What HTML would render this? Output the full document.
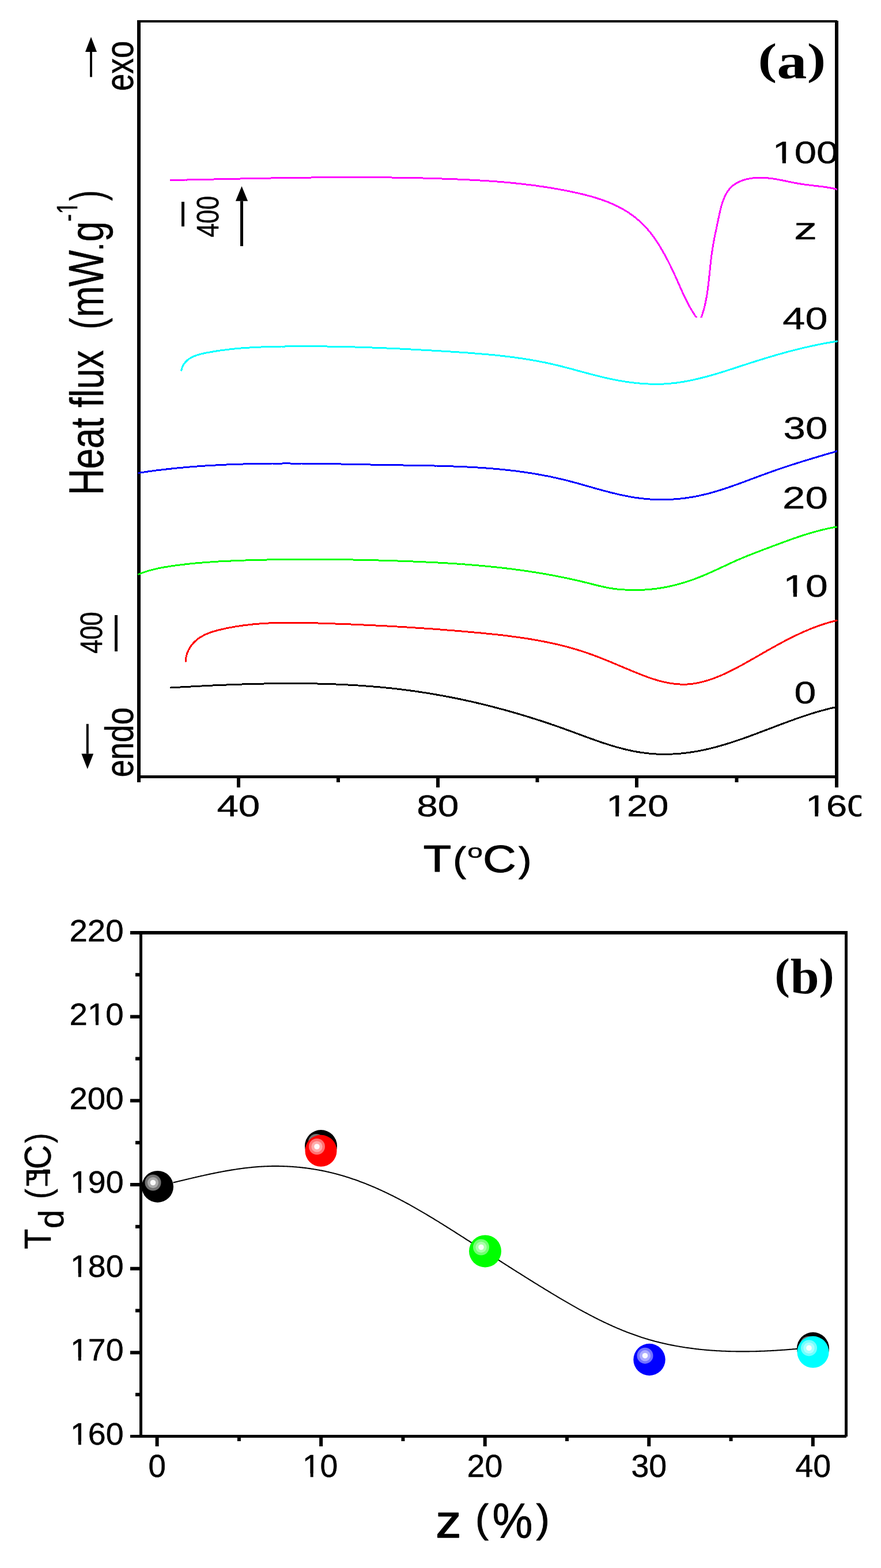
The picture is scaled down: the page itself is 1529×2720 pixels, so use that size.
<!DOCTYPE html><html><head><meta charset="utf-8"><title>DSC thermograms and Td</title>
<style>html,body{margin:0;padding:0;background:#fff;}svg{display:block;}text{font-kerning:none;}</style></head><body>
<svg width="1529" height="2720" viewBox="0 0 1529 2720">
<rect x="0" y="0" width="1529" height="2720" fill="#fff"/>
<defs><clipPath id="clip160"><rect x="0" y="0" width="1495" height="2720"/></clipPath><clipPath id="clipmag"><rect x="0" y="0" width="1529" height="551"/></clipPath></defs>
<text transform="matrix(0.00000,-0.13470,0.17306,0.00000,231.05776,157.83985)" font-family="'Liberation Sans', Arial, sans-serif" font-weight="normal" font-size="400" fill="#000" stroke="#000" stroke-width="3.275" stroke-linejoin="round" >exo</text>
<text transform="matrix(0.00000,-0.13657,0.17177,0.00000,230.86293,1348.37161)" font-family="'Liberation Sans', Arial, sans-serif" font-weight="normal" font-size="400" fill="#000" stroke="#000" stroke-width="3.265" stroke-linejoin="round" >endo</text>
<text transform="matrix(0.00000,-0.10778,0.13569,0.00000,379.20724,411.61998)" font-family="'Liberation Sans', Arial, sans-serif" font-weight="normal" font-size="400" fill="#000" stroke="#000" stroke-width="4.135" stroke-linejoin="round" >400</text>
<text transform="matrix(0.00000,-0.10855,0.13569,0.00000,177.10724,1133.72698)" font-family="'Liberation Sans', Arial, sans-serif" font-weight="normal" font-size="400" fill="#000" stroke="#000" stroke-width="4.120" stroke-linejoin="round" >400</text>
<text transform="matrix(0.00000,-0.15874,0.21273,0.00000,178.75000,858.88857)" font-family="'Liberation Sans', Arial, sans-serif" font-weight="normal" font-size="400" fill="#000" stroke="#000" stroke-width="2.721" stroke-linejoin="round" >H</text>
<text transform="matrix(0.00000,-0.15970,0.20521,0.00000,178.75000,813.46491)" font-family="'Liberation Sans', Arial, sans-serif" font-weight="normal" font-size="400" fill="#000" stroke="#000" stroke-width="2.762" stroke-linejoin="round" >eat flux</text>
<text transform="matrix(0.00000,-0.15048,0.20000,0.00000,178.15000,571.41190)" font-family="'Liberation Sans', Arial, sans-serif" font-weight="normal" font-size="400" fill="#000" stroke="#000" stroke-width="2.882" stroke-linejoin="round" >(</text>
<text transform="matrix(0.00000,-0.16286,0.20186,0.00000,178.65000,550.24714)" font-family="'Liberation Sans', Arial, sans-serif" font-weight="normal" font-size="400" fill="#000" stroke="#000" stroke-width="2.758" stroke-linejoin="round" >m</text>
<text transform="matrix(0.00000,-0.16658,0.21273,0.00000,178.65000,496.88316)" font-family="'Liberation Sans', Arial, sans-serif" font-weight="normal" font-size="400" fill="#000" stroke="#000" stroke-width="2.656" stroke-linejoin="round" >W</text>
<text transform="matrix(0.00000,-0.14211,0.14884,0.00000,178.65000,435.90789)" font-family="'Liberation Sans', Arial, sans-serif" font-weight="normal" font-size="400" fill="#000" stroke="#000" stroke-width="3.438" stroke-linejoin="round" >.</text>
<text transform="matrix(0.00000,-0.15889,0.20302,0.00000,178.89933,419.35111)" font-family="'Liberation Sans', Arial, sans-serif" font-weight="normal" font-size="400" fill="#000" stroke="#000" stroke-width="2.784" stroke-linejoin="round" >g</text>
<text transform="matrix(0.00000,-0.09681,0.12545,0.00000,133.75000,384.29263)" font-family="'Liberation Sans', Arial, sans-serif" font-weight="normal" font-size="400" fill="#000" stroke="#000" stroke-width="4.537" stroke-linejoin="round" clip-path="url(#nf0)" >-1</text>
<text transform="matrix(0.00000,-0.13619,0.20000,0.00000,178.15000,348.15857)" font-family="'Liberation Sans', Arial, sans-serif" font-weight="normal" font-size="400" fill="#000" stroke="#000" stroke-width="3.030" stroke-linejoin="round" >)</text>
<text transform="matrix(0.24608,0.00000,0.00000,0.19091,1315.47059,127.77273)" font-family="'Liberation Serif', 'Times New Roman', serif" font-weight="bold" font-size="400" fill="#000" >(</text>
<text transform="matrix(0.26133,0.00000,0.00000,0.21875,1348.30276,135.92500)" font-family="'Liberation Serif', 'Times New Roman', serif" font-weight="bold" font-size="400" fill="#000" >a</text>
<text transform="matrix(0.24369,0.00000,0.00000,0.19091,1400.63204,127.77273)" font-family="'Liberation Serif', 'Times New Roman', serif" font-weight="bold" font-size="400" fill="#000" >)</text>
<text transform="matrix(0.17215,0.00000,0.00000,0.13604,1340.50831,283.20583)" font-family="'Liberation Sans', Arial, sans-serif" font-weight="normal" font-size="400" fill="#000" stroke="#000" stroke-width="3.267" stroke-linejoin="round" clip-path="url(#nf1)" >100</text>
<text transform="matrix(0.20061,0.00000,0.00000,0.13460,1377.94024,414.75000)" font-family="'Liberation Sans', Arial, sans-serif" font-weight="normal" font-size="400" fill="#000" stroke="#000" stroke-width="3.043" stroke-linejoin="round" >z</text>
<text transform="matrix(0.17548,0.00000,0.00000,0.13640,1358.37071,571.20442)" font-family="'Liberation Sans', Arial, sans-serif" font-weight="normal" font-size="400" fill="#000" stroke="#000" stroke-width="3.232" stroke-linejoin="round" >40</text>
<text transform="matrix(0.17295,0.00000,0.00000,0.13640,1359.45580,761.20442)" font-family="'Liberation Sans', Arial, sans-serif" font-weight="normal" font-size="400" fill="#000" stroke="#000" stroke-width="3.255" stroke-linejoin="round" >30</text>
<text transform="matrix(0.17726,0.00000,0.00000,0.13640,1358.10477,881.70442)" font-family="'Liberation Sans', Arial, sans-serif" font-weight="normal" font-size="400" fill="#000" stroke="#000" stroke-width="3.216" stroke-linejoin="round" >20</text>
<text transform="matrix(0.17442,0.00000,0.00000,0.13498,1359.32187,1034.61007)" font-family="'Liberation Sans', Arial, sans-serif" font-weight="normal" font-size="400" fill="#000" stroke="#000" stroke-width="3.259" stroke-linejoin="round" clip-path="url(#nf2)" >10</text>
<text transform="matrix(0.16963,0.00000,0.00000,0.13569,1378.53586,1220.10724)" font-family="'Liberation Sans', Arial, sans-serif" font-weight="normal" font-size="400" fill="#000" stroke="#000" stroke-width="3.296" stroke-linejoin="round" >0</text>
<text transform="matrix(0.16833,0.00000,0.00000,0.12898,376.43500,1416.23410)" font-family="'Liberation Sans', Arial, sans-serif" font-weight="normal" font-size="400" fill="#000" stroke="#000" stroke-width="3.393" stroke-linejoin="round" >40</text>
<text transform="matrix(0.16432,0.00000,0.00000,0.12862,723.25655,1416.03551)" font-family="'Liberation Sans', Arial, sans-serif" font-weight="normal" font-size="400" fill="#000" stroke="#000" stroke-width="3.439" stroke-linejoin="round" >80</text>
<text transform="matrix(0.16221,0.00000,0.00000,0.12968,1051.98583,1416.13127)" font-family="'Liberation Sans', Arial, sans-serif" font-weight="normal" font-size="400" fill="#000" stroke="#000" stroke-width="3.447" stroke-linejoin="round" clip-path="url(#nf3)" >120</text>
<g clip-path="url(#clip160)"><text transform="matrix(0.16221,0.00000,0.00000,0.12968,1397.98583,1416.33127)" font-family="'Liberation Sans', Arial, sans-serif" font-weight="normal" font-size="400" fill="#000" stroke="#000" stroke-width="3.447" stroke-linejoin="round" clip-path="url(#nf4)" >160</text></g>
<text transform="matrix(0.19779,0.00000,0.00000,0.16145,734.86991,1512.05000)" font-family="'Liberation Sans', Arial, sans-serif" font-weight="normal" font-size="400" fill="#000" stroke="#000" stroke-width="7.275" stroke-linejoin="round" >T</text>
<text transform="matrix(0.17048,0.00000,0.00000,0.15442,786.18810,1512.33284)" font-family="'Liberation Sans', Arial, sans-serif" font-weight="normal" font-size="400" fill="#000" stroke="#000" stroke-width="6.780" stroke-linejoin="round" >(</text>
<text transform="matrix(0.11958,0.00000,0.00000,0.08356,811.26720,1488.06575)" font-family="'Liberation Sans', Arial, sans-serif" font-weight="normal" font-size="400" fill="#000" stroke="#000" stroke-width="6.002" stroke-linejoin="round" >o</text>
<text transform="matrix(0.20000,0.00000,0.00000,0.16502,838.05000,1512.58993)" font-family="'Liberation Sans', Arial, sans-serif" font-weight="normal" font-size="400" fill="#000" stroke="#000" stroke-width="6.055" stroke-linejoin="round" >C</text>
<text transform="matrix(0.16762,0.00000,0.00000,0.15442,900.04714,1512.33284)" font-family="'Liberation Sans', Arial, sans-serif" font-weight="normal" font-size="400" fill="#000" stroke="#000" stroke-width="6.837" stroke-linejoin="round" >)</text>
<text transform="matrix(0.19706,0.00000,0.00000,0.18843,1344.45294,1714.98347)" font-family="'Liberation Serif', 'Times New Roman', serif" font-weight="bold" font-size="400" fill="#000" >(</text>
<text transform="matrix(0.22438,0.00000,0.00000,0.21809,1371.67811,1723.22766)" font-family="'Liberation Serif', 'Times New Roman', serif" font-weight="bold" font-size="400" fill="#000" >b</text>
<text transform="matrix(0.19515,0.00000,0.00000,0.18843,1421.46311,1714.98347)" font-family="'Liberation Serif', 'Times New Roman', serif" font-weight="bold" font-size="400" fill="#000" >)</text>
<text transform="matrix(0.14114,0.00000,0.00000,0.13286,120.42722,1632.51855)" font-family="'Liberation Sans', Arial, sans-serif" font-weight="normal" font-size="400" fill="#000" stroke="#000" stroke-width="3.651" stroke-linejoin="round" >220</text>
<text transform="matrix(0.14114,0.00000,0.00000,0.13286,120.42722,1778.06855)" font-family="'Liberation Sans', Arial, sans-serif" font-weight="normal" font-size="400" fill="#000" stroke="#000" stroke-width="3.651" stroke-linejoin="round" clip-path="url(#nf5)" >210</text>
<text transform="matrix(0.14114,0.00000,0.00000,0.13286,120.42722,1923.61855)" font-family="'Liberation Sans', Arial, sans-serif" font-weight="normal" font-size="400" fill="#000" stroke="#000" stroke-width="3.651" stroke-linejoin="round" >200</text>
<text transform="matrix(0.13876,0.00000,0.00000,0.13286,121.97704,2069.16855)" font-family="'Liberation Sans', Arial, sans-serif" font-weight="normal" font-size="400" fill="#000" stroke="#000" stroke-width="3.682" stroke-linejoin="round" clip-path="url(#nf6)" >190</text>
<text transform="matrix(0.13876,0.00000,0.00000,0.13286,121.97704,2214.71855)" font-family="'Liberation Sans', Arial, sans-serif" font-weight="normal" font-size="400" fill="#000" stroke="#000" stroke-width="3.682" stroke-linejoin="round" clip-path="url(#nf7)" >180</text>
<text transform="matrix(0.13876,0.00000,0.00000,0.13286,121.97704,2360.26855)" font-family="'Liberation Sans', Arial, sans-serif" font-weight="normal" font-size="400" fill="#000" stroke="#000" stroke-width="3.682" stroke-linejoin="round" clip-path="url(#nf8)" >170</text>
<text transform="matrix(0.13876,0.00000,0.00000,0.13286,121.97704,2505.81855)" font-family="'Liberation Sans', Arial, sans-serif" font-weight="normal" font-size="400" fill="#000" stroke="#000" stroke-width="3.682" stroke-linejoin="round" clip-path="url(#nf9)" >160</text>
<text transform="matrix(0.13665,0.00000,0.00000,0.13852,257.46361,2562.49594)" font-family="'Liberation Sans', Arial, sans-serif" font-weight="normal" font-size="400" fill="#000" stroke="#000" stroke-width="3.634" stroke-linejoin="round" >0</text>
<text transform="matrix(0.13862,0.00000,0.00000,0.13852,524.78248,2562.49594)" font-family="'Liberation Sans', Arial, sans-serif" font-weight="normal" font-size="400" fill="#000" stroke="#000" stroke-width="3.608" stroke-linejoin="round" clip-path="url(#nf10)" >10</text>
<text transform="matrix(0.13868,0.00000,0.00000,0.13852,810.56742,2562.49594)" font-family="'Liberation Sans', Arial, sans-serif" font-weight="normal" font-size="400" fill="#000" stroke="#000" stroke-width="3.608" stroke-linejoin="round" >20</text>
<text transform="matrix(0.13869,0.00000,0.00000,0.13852,1095.46083,2562.49594)" font-family="'Liberation Sans', Arial, sans-serif" font-weight="normal" font-size="400" fill="#000" stroke="#000" stroke-width="3.607" stroke-linejoin="round" >30</text>
<text transform="matrix(0.13871,0.00000,0.00000,0.13852,1380.42312,2562.49594)" font-family="'Liberation Sans', Arial, sans-serif" font-weight="normal" font-size="400" fill="#000" stroke="#000" stroke-width="3.607" stroke-linejoin="round" >40</text>
<text transform="matrix(0.22134,0.00000,0.00000,0.19716,756.25854,2667.30000)" font-family="'Liberation Sans', Arial, sans-serif" font-weight="normal" font-size="400" fill="#000" stroke="#000" stroke-width="7.659" stroke-linejoin="round" >z</text>
<text transform="matrix(0.17238,0.00000,0.00000,0.16944,825.09048,2658.33673)" font-family="'Liberation Sans', Arial, sans-serif" font-weight="normal" font-size="400" fill="#000" stroke="#000" stroke-width="5.851" stroke-linejoin="round" >(</text>
<text transform="matrix(0.19664,0.00000,0.00000,0.21500,854.39709,2668.02000)" font-family="'Liberation Sans', Arial, sans-serif" font-weight="normal" font-size="400" fill="#000" stroke="#000" stroke-width="4.377" stroke-linejoin="round" >%</text>
<text transform="matrix(0.17524,0.00000,0.00000,0.16944,930.57429,2658.33673)" font-family="'Liberation Sans', Arial, sans-serif" font-weight="normal" font-size="400" fill="#000" stroke="#000" stroke-width="5.803" stroke-linejoin="round" >)</text>
<text transform="matrix(0.00000,-0.14425,0.16182,0.00000,87.75000,2167.04823)" font-family="'Liberation Sans', Arial, sans-serif" font-weight="normal" font-size="400" fill="#000" stroke="#000" stroke-width="3.273" stroke-linejoin="round" >T</text>
<text transform="matrix(0.00000,-0.14611,0.15136,0.00000,110.14456,2131.03389)" font-family="'Liberation Sans', Arial, sans-serif" font-weight="normal" font-size="400" fill="#000" stroke="#000" stroke-width="3.362" stroke-linejoin="round" >d</text>
<text transform="matrix(0.00000,-0.13429,0.15147,0.00000,87.17761,2080.10714)" font-family="'Liberation Sans', Arial, sans-serif" font-weight="normal" font-size="400" fill="#000" stroke="#000" stroke-width="3.506" stroke-linejoin="round" >(</text>
<text transform="matrix(0.07965,0.00000,0.00000,0.09818,43.84956,2057.00000)" font-family="'Liberation Sans', Arial, sans-serif" font-weight="bold" font-size="400" fill="#000" >P</text>
<text transform="matrix(0.04746,0.00000,0.00000,0.09164,74.71017,2056.10000)" font-family="'Liberation Sans', Arial, sans-serif" font-weight="bold" font-size="400" fill="#000" stroke="#000" stroke-width="27.295" stroke-linejoin="round" >T</text>
<rect x="46" y="2030" width="41" height="6" fill="#000"/>
<text transform="matrix(0.00000,-0.14545,0.16325,0.00000,87.79700,2028.35909)" font-family="'Liberation Sans', Arial, sans-serif" font-weight="normal" font-size="400" fill="#000" stroke="#000" stroke-width="3.245" stroke-linejoin="round" >C</text>
<text transform="matrix(0.00000,-0.12857,0.15147,0.00000,87.17761,1982.73571)" font-family="'Liberation Sans', Arial, sans-serif" font-weight="normal" font-size="400" fill="#000" stroke="#000" stroke-width="3.583" stroke-linejoin="round" >)</text>
<defs><clipPath id="nf0"><path d="M-400,-800H1200V400H-400ZM143.26,-50.30H233.79V20.42H143.26ZM269.14,-50.30H356.55V20.42H269.14Z" clip-rule="evenodd"/></clipPath><clipPath id="nf1"><path d="M-400,-800H1600V400H-400ZM15.77,-44.59H100.59V14.70H15.77ZM135.94,-44.59H217.63V14.70H135.94Z" clip-rule="evenodd"/></clipPath><clipPath id="nf2"><path d="M-400,-800H1200V400H-400ZM15.81,-44.55H100.59V14.66H15.81ZM135.94,-44.55H217.59V14.66H135.94Z" clip-rule="evenodd"/></clipPath><clipPath id="nf3"><path d="M-400,-800H1600V400H-400ZM14.96,-45.40H100.59V15.51H14.96ZM135.94,-45.40H218.44V15.51H135.94Z" clip-rule="evenodd"/></clipPath><clipPath id="nf4"><path d="M-400,-800H1600V400H-400ZM14.96,-45.40H100.59V15.51H14.96ZM135.94,-45.40H218.44V15.51H135.94Z" clip-rule="evenodd"/></clipPath><clipPath id="nf5"><path d="M-400,-800H1600V400H-400ZM236.51,-46.31H323.05V16.43H236.51ZM358.41,-46.31H441.83V16.43H358.41Z" clip-rule="evenodd"/></clipPath><clipPath id="nf6"><path d="M-400,-800H1600V400H-400ZM13.90,-46.45H100.59V16.57H13.90ZM135.94,-46.45H219.50V16.57H135.94Z" clip-rule="evenodd"/></clipPath><clipPath id="nf7"><path d="M-400,-800H1600V400H-400ZM13.90,-46.45H100.59V16.57H13.90ZM135.94,-46.45H219.50V16.57H135.94Z" clip-rule="evenodd"/></clipPath><clipPath id="nf8"><path d="M-400,-800H1600V400H-400ZM13.90,-46.45H100.59V16.57H13.90ZM135.94,-46.45H219.50V16.57H135.94Z" clip-rule="evenodd"/></clipPath><clipPath id="nf9"><path d="M-400,-800H1600V400H-400ZM13.90,-46.45H100.59V16.57H13.90ZM135.94,-46.45H219.50V16.57H135.94Z" clip-rule="evenodd"/></clipPath><clipPath id="nf10"><path d="M-400,-800H1200V400H-400ZM14.23,-46.12H100.59V16.24H14.23ZM135.94,-46.12H219.17V16.24H135.94Z" clip-rule="evenodd"/></clipPath></defs>
<g fill="#000">
<rect x="238" y="36" width="6" height="1321"/>
<rect x="238" y="35" width="1215" height="4"/>
<rect x="1449" y="36" width="6" height="1330"/>
<rect x="238" y="1345" width="1217" height="5"/>
<rect x="411" y="1350" width="6" height="16"/>
<rect x="757" y="1350" width="6" height="16"/>
<rect x="1102" y="1350" width="6" height="16"/>
<rect x="584" y="1350" width="6" height="7"/>
<rect x="929.5" y="1350" width="6" height="7"/>
<rect x="1275.5" y="1350" width="6" height="7"/>
<polygon points="158,64 148,90 168,90"/><rect x="156.1" y="90" width="3.8" height="43.599999999999994"/>
<polygon points="419.5,323 408.9,348.8 430.1,348.8"/><rect x="417.0" y="348.8" width="5" height="78.19999999999999"/>
<polygon points="151.8,1334 141.4,1307.6 162.20000000000002,1307.6"/><rect x="149.8" y="1255.8" width="4" height="51.799999999999955"/>
<rect x="315" y="350" width="5" height="42.8"/>
<rect x="199" y="1067" width="5" height="63"/>
</g>
<g clip-path="url(#clipmag)">
<path d="M294.5,312.6 L296.0,312.6 L297.5,312.6 L299.0,312.5 L300.5,312.5 L302.0,312.5 L303.5,312.4 L305.0,312.4 L306.5,312.4 L308.0,312.3 L309.5,312.3 L311.0,312.3 L312.5,312.2 L314.0,312.2 L315.5,312.2 L317.0,312.1 L318.5,312.1 L320.0,312.1 L321.5,312.0 L323.0,312.0 L324.5,312.0 L326.0,311.9 L327.5,311.9 L329.0,311.9 L330.5,311.9 L332.0,311.8 L333.5,311.8 L335.0,311.8 L336.5,311.7 L338.0,311.7 L339.5,311.7 L341.0,311.6 L342.5,311.6 L344.0,311.6 L345.5,311.5 L347.0,311.5 L348.5,311.5 L350.0,311.4 L351.5,311.4 L353.0,311.4 L354.5,311.3 L356.0,311.3 L357.5,311.3 L359.0,311.2 L360.5,311.2 L362.0,311.2 L363.5,311.1 L365.0,311.1 L366.5,311.1 L368.0,311.0 L369.4,311.0 L370.9,311.0 L372.4,310.9 L373.9,310.9 L375.4,310.9 L376.9,310.8 L378.4,310.8 L379.9,310.8 L381.4,310.7 L382.9,310.7 L384.4,310.7 L385.9,310.6 L387.4,310.6 L388.9,310.6 L390.4,310.5 L391.9,310.5 L393.4,310.5 L394.9,310.5 L396.4,310.4 L397.9,310.4 L399.4,310.4 L400.9,310.3 L402.4,310.3 L403.9,310.3 L405.4,310.2 L406.9,310.2 L408.4,310.2 L409.9,310.1 L411.4,310.1 L412.9,310.1 L414.4,310.0 L415.9,310.0 L417.4,310.0 L418.9,309.9 L420.4,309.9 L421.9,309.9 L423.4,309.9 L424.9,309.8 L426.4,309.8 L427.9,309.8 L429.4,309.7 L430.9,309.7 L432.4,309.7 L433.9,309.6 L435.4,309.6 L436.9,309.6 L438.4,309.6 L439.9,309.5 L441.4,309.5 L442.9,309.5 L444.4,309.4 L445.9,309.4 L447.4,309.4 L448.9,309.4 L450.4,309.3 L451.9,309.3 L453.4,309.3 L454.9,309.2 L456.4,309.2 L457.9,309.2 L459.4,309.2 L460.9,309.1 L462.4,309.1 L463.9,309.1 L465.4,309.0 L466.9,309.0 L468.4,309.0 L469.9,309.0 L471.4,308.9 L472.9,308.9 L474.4,308.9 L475.9,308.9 L477.4,308.8 L478.9,308.8 L480.4,308.8 L481.9,308.8 L483.4,308.7 L484.9,308.7 L486.4,308.7 L487.9,308.7 L489.4,308.6 L490.9,308.6 L492.4,308.6 L493.9,308.6 L495.4,308.5 L496.9,308.5 L498.4,308.5 L499.9,308.5 L501.4,308.5 L502.9,308.4 L504.4,308.4 L505.9,308.4 L507.4,308.4 L508.9,308.3 L510.4,308.3 L511.9,308.3 L513.4,308.3 L514.9,308.3 L516.4,308.2 L517.9,308.2 L519.4,308.2 L520.9,308.2 L522.4,308.2 L523.9,308.1 L525.4,308.1 L526.9,308.1 L528.4,308.1 L529.9,308.1 L531.4,308.1 L532.9,308.0 L534.4,308.0 L535.9,308.0 L537.4,308.0 L538.9,308.0 L540.4,308.0 L541.9,307.9 L543.4,307.9 L544.9,307.9 L546.4,307.9 L547.9,307.9 L549.4,307.9 L550.9,307.8 L552.4,307.8 L553.9,307.8 L555.4,307.8 L556.9,307.8 L558.4,307.8 L559.9,307.8 L561.4,307.8 L562.9,307.7 L564.4,307.7 L565.9,307.7 L567.4,307.7 L568.9,307.7 L570.4,307.7 L571.9,307.7 L573.4,307.7 L574.9,307.7 L576.4,307.7 L577.9,307.6 L579.4,307.6 L580.9,307.6 L582.4,307.6 L583.9,307.6 L585.4,307.6 L586.9,307.6 L588.4,307.6 L589.9,307.6 L591.4,307.6 L592.9,307.6 L594.4,307.6 L595.9,307.6 L597.4,307.6 L598.9,307.6 L600.4,307.6 L601.9,307.6 L603.4,307.6 L604.9,307.6 L606.4,307.5 L607.9,307.5 L609.4,307.5 L610.9,307.5 L612.4,307.5 L613.9,307.5 L615.4,307.5 L616.9,307.5 L618.4,307.5 L619.9,307.5 L621.4,307.6 L622.9,307.6 L624.4,307.6 L625.9,307.6 L627.4,307.6 L628.9,307.6 L630.4,307.6 L631.9,307.6 L633.4,307.6 L634.9,307.6 L636.4,307.6 L637.9,307.6 L639.4,307.6 L640.9,307.6 L642.4,307.6 L643.9,307.6 L645.4,307.6 L646.9,307.6 L648.4,307.7 L649.9,307.7 L651.4,307.7 L652.9,307.7 L654.4,307.7 L655.9,307.7 L657.4,307.7 L658.9,307.7 L660.4,307.7 L661.9,307.8 L663.4,307.8 L664.9,307.8 L666.4,307.8 L667.9,307.8 L669.4,307.8 L670.9,307.8 L672.4,307.9 L673.9,307.9 L675.4,307.9 L676.9,307.9 L678.4,307.9 L679.9,308.0 L681.4,308.0 L682.9,308.0 L684.4,308.0 L685.9,308.0 L687.4,308.1 L688.9,308.1 L690.4,308.1 L691.9,308.1 L693.4,308.2 L694.9,308.2 L696.4,308.2 L697.9,308.2 L699.4,308.2 L700.9,308.3 L702.4,308.3 L703.9,308.3 L705.4,308.4 L706.9,308.4 L708.4,308.4 L709.8,308.4 L711.3,308.5 L712.8,308.5 L714.3,308.5 L715.8,308.6 L717.3,308.6 L718.8,308.6 L720.3,308.7 L721.8,308.7 L723.3,308.7 L724.8,308.8 L726.3,308.8 L727.8,308.8 L729.3,308.9 L730.8,308.9 L732.3,308.9 L733.8,309.0 L735.3,309.0 L736.8,309.1 L738.3,309.1 L739.8,309.1 L741.3,309.2 L742.8,309.2 L744.3,309.3 L745.8,309.3 L747.3,309.3 L748.8,309.4 L750.3,309.4 L751.8,309.5 L753.3,309.5 L754.8,309.6 L756.3,309.6 L757.8,309.7 L759.3,309.7 L760.8,309.8 L762.3,309.8 L763.8,309.9 L765.3,309.9 L766.8,310.0 L768.3,310.0 L769.8,310.1 L771.3,310.1 L772.8,310.2 L774.3,310.2 L775.8,310.3 L777.3,310.3 L778.8,310.4 L780.3,310.4 L781.8,310.5 L783.3,310.6 L784.8,310.6 L786.3,310.7 L787.8,310.7 L789.3,310.8 L790.8,310.9 L792.3,310.9 L793.8,311.0 L795.3,311.1 L796.8,311.1 L798.3,311.2 L799.8,311.2 L801.3,311.3 L802.8,311.4 L804.3,311.5 L805.8,311.5 L807.2,311.6 L808.7,311.7 L810.2,311.7 L811.7,311.8 L813.2,311.9 L814.7,312.0 L816.2,312.0 L817.7,312.1 L819.2,312.2 L820.7,312.3 L822.2,312.4 L823.7,312.4 L825.2,312.5 L826.7,312.6 L828.2,312.7 L829.7,312.8 L831.2,312.9 L832.7,313.0 L834.2,313.0 L835.7,313.1 L837.2,313.2 L838.7,313.3 L840.2,313.4 L841.7,313.5 L843.2,313.6 L844.7,313.7 L846.2,313.8 L847.7,313.9 L849.1,314.0 L850.6,314.1 L852.1,314.2 L853.6,314.3 L855.1,314.4 L856.6,314.5 L858.1,314.7 L859.6,314.8 L861.1,314.9 L862.6,315.0 L864.1,315.1 L865.6,315.2 L867.1,315.4 L868.6,315.5 L870.1,315.6 L871.6,315.7 L873.1,315.9 L874.6,316.0 L876.0,316.1 L877.5,316.3 L879.0,316.4 L880.5,316.5 L882.0,316.7 L883.5,316.8 L885.0,316.9 L886.5,317.1 L888.0,317.2 L889.5,317.4 L891.0,317.5 L892.5,317.7 L894.0,317.8 L895.4,318.0 L896.9,318.1 L898.4,318.3 L899.9,318.4 L901.4,318.6 L902.9,318.8 L904.4,318.9 L905.9,319.1 L907.4,319.3 L908.9,319.4 L910.3,319.6 L911.8,319.8 L913.3,320.0 L914.8,320.1 L916.3,320.3 L917.8,320.5 L919.3,320.7 L920.8,320.9 L922.3,321.1 L923.7,321.3 L925.2,321.4 L926.7,321.6 L928.2,321.8 L929.7,322.0 L931.2,322.2 L932.7,322.5 L934.1,322.7 L935.6,322.9 L937.1,323.1 L938.6,323.3 L940.1,323.5 L941.6,323.7 L943.1,323.9 L944.5,324.2 L946.0,324.4 L947.5,324.6 L949.0,324.9 L950.5,325.1 L952.0,325.3 L953.5,325.6 L954.9,325.8 L956.4,326.0 L957.9,326.3 L959.4,326.5 L960.9,326.8 L962.3,327.0 L963.8,327.3 L965.3,327.6 L966.8,327.8 L968.3,328.1 L969.8,328.3 L971.2,328.6 L972.7,328.9 L974.2,329.2 L975.7,329.4 L977.2,329.7 L978.6,330.0 L980.1,330.3 L981.6,330.6 L983.1,330.9 L984.5,331.1 L986.0,331.4 L987.5,331.7 L989.0,332.0 L990.5,332.4 L991.9,332.7 L993.4,333.0 L994.9,333.3 L996.4,333.6 L997.8,333.9 L999.3,334.2 L1000.8,334.6 L1002.3,334.9 L1003.7,335.2 L1005.2,335.6 L1006.7,335.9 L1008.1,336.2 L1009.6,336.6 L1011.1,336.9 L1012.5,337.3 L1014.0,337.7 L1015.5,338.0 L1016.9,338.4 L1018.4,338.8 L1019.9,339.2 L1021.3,339.5 L1022.8,339.9 L1024.2,340.3 L1025.7,340.7 L1027.1,341.1 L1028.6,341.6 L1030.0,342.0 L1031.5,342.4 L1032.9,342.8 L1034.3,343.3 L1035.8,343.7 L1037.2,344.2 L1038.6,344.6 L1040.0,345.1 L1041.5,345.6 L1042.9,346.0 L1044.3,346.5 L1045.7,347.0 L1047.1,347.5 L1048.5,348.0 L1049.9,348.5 L1051.3,349.1 L1052.7,349.6 L1054.1,350.1 L1055.5,350.7 L1056.9,351.2 L1058.2,351.8 L1059.6,352.4 L1061.0,353.0 L1062.4,353.6 L1063.7,354.1 L1065.1,354.8 L1066.4,355.4 L1067.8,356.0 L1069.1,356.6 L1070.4,357.3 L1071.8,357.9 L1073.1,358.6 L1074.4,359.3 L1075.7,360.0 L1077.0,360.7 L1078.3,361.4 L1079.6,362.1 L1080.9,362.8 L1082.2,363.6 L1083.5,364.3 L1084.8,365.1 L1086.1,365.8 L1087.3,366.6 L1088.6,367.4 L1089.8,368.2 L1091.1,369.0 L1092.3,369.9 L1093.5,370.7 L1094.8,371.6 L1096.0,372.4 L1097.2,373.3 L1098.4,374.2 L1099.6,375.1 L1100.8,376.0 L1102.0,376.9 L1103.1,377.9 L1104.3,378.8 L1105.5,379.8 L1106.6,380.8 L1107.8,381.7 L1108.9,382.7 L1110.0,383.7 L1111.1,384.8 L1112.2,385.8 L1113.3,386.8 L1114.4,387.9 L1115.5,388.9 L1116.6,390.0 L1117.7,391.1 L1118.7,392.2 L1119.8,393.2 L1120.8,394.4 L1121.8,395.5 L1122.8,396.6 L1123.9,397.7 L1124.8,398.9 L1125.8,400.0 L1126.8,401.2 L1127.8,402.3 L1128.7,403.5 L1129.7,404.7 L1130.6,405.8 L1131.5,407.0 L1132.4,408.2 L1133.3,409.4 L1134.2,410.7 L1135.1,411.9 L1136.0,413.1 L1136.8,414.3 L1137.7,415.6 L1138.5,416.8 L1139.3,418.1 L1140.2,419.3 L1141.0,420.6 L1141.8,421.8 L1142.6,423.1 L1143.4,424.4 L1144.2,425.6 L1144.9,426.9 L1145.7,428.2 L1146.5,429.5 L1147.2,430.8 L1148.0,432.1 L1148.7,433.3 L1149.5,434.6 L1150.2,435.9 L1151.0,437.2 L1151.7,438.6 L1152.4,439.9 L1153.2,441.2 L1153.9,442.5 L1154.6,443.8 L1155.3,445.1 L1156.0,446.4 L1156.7,447.7 L1157.4,449.1 L1158.1,450.4 L1158.8,451.7 L1159.5,453.1 L1160.2,454.4 L1160.8,455.7 L1161.5,457.1 L1162.2,458.4 L1162.9,459.7 L1163.5,461.1 L1164.2,462.4 L1164.8,463.8 L1165.5,465.1 L1166.1,466.5 L1166.8,467.8 L1167.4,469.2 L1168.1,470.5 L1168.7,471.9 L1169.4,473.2 L1170.0,474.6 L1170.6,476.0 L1171.2,477.3 L1171.9,478.7 L1172.5,480.1 L1173.1,481.4 L1173.7,482.8 L1174.3,484.2 L1174.9,485.5 L1175.5,486.9 L1176.1,488.3 L1176.7,489.7 L1177.4,491.0 L1178.0,492.4 L1178.6,493.8 L1179.2,495.2 L1179.8,496.5 L1180.4,497.9 L1181.0,499.3 L1181.6,500.7 L1182.2,502.0 L1182.8,503.4 L1183.5,504.8 L1184.1,506.1 L1184.7,507.5 L1185.3,508.9 L1185.9,510.2 L1186.6,511.6 L1187.2,512.9 L1187.9,514.3 L1188.5,515.6 L1189.2,517.0 L1189.8,518.3 L1190.5,519.7 L1191.1,521.0 L1191.8,522.4 L1192.5,523.7 L1193.2,525.0 L1193.9,526.4 L1194.5,527.7 L1195.3,529.0 L1196.0,530.3 L1196.7,531.6 L1197.4,532.9 L1198.1,534.2 L1198.9,535.5 L1199.6,536.8 L1200.4,538.1 L1201.2,539.4 L1202.0,540.7 L1202.7,541.9 L1203.5,543.2 L1204.4,544.5 L1205.2,545.7 L1206.0,547.0 L1206.9,548.2 L1207.7,549.4 L1208.6,550.7 L1209.5,551.9 L1210.3,553.1" fill="none" stroke="#ff00ff" stroke-width="3" shape-rendering="crispEdges"/>
<path d="M1214.9,556.0 L1215.4,554.6 L1216.0,553.2 L1216.5,551.8 L1217.0,550.4 L1217.6,549.0 L1218.1,547.6 L1218.5,546.2 L1219.0,544.8 L1219.5,543.4 L1219.9,541.9 L1220.3,540.5 L1220.8,539.1 L1221.2,537.7 L1221.6,536.2 L1222.0,534.8 L1222.3,533.4 L1222.7,531.9 L1223.1,530.5 L1223.4,529.0 L1223.8,527.6 L1224.1,526.1 L1224.4,524.6 L1224.7,523.2 L1225.0,521.7 L1225.3,520.3 L1225.6,518.8 L1225.9,517.3 L1226.1,515.9 L1226.4,514.4 L1226.6,512.9 L1226.9,511.4 L1227.1,510.0 L1227.4,508.5 L1227.6,507.0 L1227.8,505.5 L1228.0,504.0 L1228.2,502.5 L1228.4,501.1 L1228.6,499.6 L1228.8,498.1 L1229.0,496.6 L1229.2,495.1 L1229.4,493.6 L1229.6,492.1 L1229.7,490.6 L1229.9,489.1 L1230.1,487.6 L1230.2,486.1 L1230.4,484.6 L1230.6,483.1 L1230.7,481.6 L1230.9,480.1 L1231.0,478.6 L1231.2,477.2 L1231.3,475.7 L1231.5,474.2 L1231.6,472.7 L1231.8,471.2 L1231.9,469.7 L1232.1,468.2 L1232.3,466.7 L1232.4,465.2 L1232.6,463.7 L1232.7,462.2 L1232.9,460.7 L1233.0,459.2 L1233.2,457.7 L1233.3,456.2 L1233.5,454.7 L1233.7,453.3 L1233.8,451.8 L1234.0,450.3 L1234.2,448.8 L1234.4,447.3 L1234.6,445.8 L1234.7,444.4 L1234.9,442.9 L1235.1,441.4 L1235.3,439.9 L1235.5,438.5 L1235.7,437.0 L1236.0,435.5 L1236.2,434.1 L1236.4,432.6 L1236.6,431.1 L1236.9,429.7 L1237.1,428.2 L1237.4,426.8 L1237.6,425.3 L1237.9,423.8 L1238.1,422.4 L1238.4,420.9 L1238.7,419.5 L1238.9,418.0 L1239.2,416.6 L1239.5,415.1 L1239.8,413.7 L1240.0,412.2 L1240.3,410.8 L1240.6,409.3 L1240.9,407.9 L1241.2,406.4 L1241.5,404.9 L1241.8,403.5 L1242.1,402.0 L1242.4,400.6 L1242.7,399.1 L1243.0,397.7 L1243.3,396.2 L1243.6,394.7 L1243.9,393.3 L1244.2,391.8 L1244.5,390.3 L1244.8,388.9 L1245.2,387.4 L1245.5,385.9 L1245.8,384.4 L1246.1,383.0 L1246.4,381.5 L1246.7,380.0 L1247.0,378.5 L1247.3,377.0 L1247.7,375.5 L1248.0,374.0 L1248.3,372.5 L1248.6,371.0 L1249.0,369.6 L1249.3,368.1 L1249.6,366.6 L1250.0,365.1 L1250.3,363.6 L1250.7,362.1 L1251.1,360.6 L1251.5,359.2 L1251.9,357.7 L1252.3,356.2 L1252.7,354.7 L1253.2,353.3 L1253.7,351.8 L1254.1,350.4 L1254.6,349.0 L1255.2,347.5 L1255.7,346.1 L1256.3,344.7 L1256.9,343.3 L1257.5,341.9 L1258.1,340.6 L1258.8,339.2 L1259.5,337.8 L1260.2,336.5 L1260.9,335.2 L1261.7,333.9 L1262.5,332.6 L1263.3,331.4 L1264.2,330.2 L1265.1,329.0 L1266.0,327.9 L1267.0,326.8 L1268.0,325.7 L1269.0,324.7 L1270.0,323.7 L1271.1,322.7 L1272.2,321.8 L1273.4,321.0 L1274.5,320.1 L1275.7,319.3 L1276.9,318.5 L1278.1,317.8 L1279.4,317.1 L1280.7,316.4 L1282.0,315.7 L1283.3,315.1 L1284.6,314.5 L1286.0,314.0 L1287.3,313.4 L1288.7,312.9 L1290.1,312.5 L1291.5,312.0 L1292.9,311.6 L1294.4,311.2 L1295.8,310.9 L1297.3,310.5 L1298.8,310.2 L1300.2,309.9 L1301.7,309.7 L1303.2,309.4 L1304.7,309.2 L1306.3,309.0 L1307.8,308.9 L1309.3,308.7 L1310.8,308.6 L1312.3,308.5 L1313.9,308.4 L1315.4,308.4 L1316.9,308.3 L1318.4,308.3 L1320.0,308.3 L1321.5,308.3 L1323.0,308.4 L1324.5,308.4 L1326.0,308.5 L1327.5,308.6 L1329.0,308.7 L1330.5,308.8 L1332.0,308.9 L1333.5,309.0 L1335.0,309.2 L1336.5,309.4 L1338.0,309.5 L1339.5,309.7 L1341.0,309.9 L1342.4,310.1 L1343.9,310.4 L1345.4,310.6 L1346.8,310.8 L1348.3,311.1 L1349.8,311.3 L1351.3,311.6 L1352.7,311.9 L1354.2,312.2 L1355.6,312.4 L1357.1,312.7 L1358.6,313.0 L1360.0,313.3 L1361.5,313.6 L1362.9,313.9 L1364.4,314.2 L1365.9,314.5 L1367.3,314.8 L1368.8,315.1 L1370.2,315.4 L1371.7,315.7 L1373.2,316.0 L1374.6,316.3 L1376.1,316.6 L1377.5,316.9 L1379.0,317.1 L1380.5,317.4 L1381.9,317.7 L1383.4,318.0 L1384.9,318.2 L1386.3,318.5 L1387.8,318.7 L1389.3,319.0 L1390.8,319.2 L1392.2,319.4 L1393.7,319.7 L1395.2,319.9 L1396.7,320.1 L1398.2,320.3 L1399.7,320.5 L1401.2,320.7 L1402.6,320.9 L1404.1,321.0 L1405.6,321.2 L1407.1,321.4 L1408.6,321.6 L1410.1,321.8 L1411.6,321.9 L1413.1,322.1 L1414.6,322.3 L1416.1,322.5 L1417.5,322.6 L1419.0,322.8 L1420.5,323.0 L1422.0,323.2 L1423.5,323.4 L1425.0,323.6 L1426.5,323.7 L1428.0,323.9 L1429.5,324.1 L1430.9,324.4 L1432.4,324.6 L1433.9,324.8 L1435.4,325.0 L1436.9,325.2 L1438.3,325.5 L1439.8,325.7 L1441.3,326.0 L1442.8,326.3 L1444.2,326.5 L1445.7,326.8 L1447.1,327.1 L1448.6,327.4 L1450.1,327.8 L1451.5,328.1 L1453.0,328.4" fill="none" stroke="#ff00ff" stroke-width="3" shape-rendering="crispEdges"/>
</g>
<path d="M314.8,642.3 L315.2,640.7 L315.6,639.1 L316.1,637.6 L316.7,636.1 L317.4,634.7 L318.1,633.4 L318.8,632.1 L319.6,630.9 L320.5,629.7 L321.4,628.6 L322.4,627.5 L323.4,626.5 L324.4,625.5 L325.5,624.6 L326.6,623.7 L327.7,622.9 L328.9,622.1 L330.1,621.3 L331.4,620.6 L332.6,619.9 L333.9,619.3 L335.2,618.7 L336.6,618.1 L337.9,617.5 L339.3,617.0 L340.7,616.5 L342.1,616.0 L343.5,615.6 L345.0,615.1 L346.4,614.7 L347.9,614.3 L349.3,614.0 L350.8,613.6 L352.3,613.3 L353.8,612.9 L355.3,612.6 L356.8,612.3 L358.3,612.0 L359.8,611.7 L361.4,611.4 L362.9,611.2 L364.4,610.9 L365.9,610.6 L367.4,610.4 L368.9,610.1 L370.4,609.8 L371.9,609.6 L373.4,609.3 L374.9,609.1 L376.4,608.9 L377.9,608.6 L379.4,608.4 L380.9,608.2 L382.4,608.0 L383.9,607.8 L385.4,607.6 L386.9,607.4 L388.5,607.2 L390.0,607.0 L391.5,606.8 L393.0,606.6 L394.5,606.4 L396.0,606.2 L397.5,606.1 L399.0,605.9 L400.5,605.7 L401.9,605.6 L403.4,605.4 L404.9,605.2 L406.4,605.1 L407.9,604.9 L409.4,604.8 L410.9,604.7 L412.4,604.5 L413.9,604.4 L415.4,604.3 L416.9,604.1 L418.4,604.0 L419.9,603.9 L421.4,603.8 L422.9,603.7 L424.4,603.6 L425.9,603.5 L427.4,603.3 L428.9,603.2 L430.4,603.1 L431.9,603.1 L433.4,603.0 L434.8,602.9 L436.3,602.8 L437.8,602.7 L439.3,602.6 L440.8,602.5 L442.3,602.5 L443.8,602.4 L445.3,602.3 L446.8,602.2 L448.3,602.2 L449.8,602.1 L451.3,602.1 L452.8,602.0 L454.3,601.9 L455.7,601.9 L457.2,601.8 L458.7,601.8 L460.2,601.7 L461.7,601.7 L463.2,601.6 L464.7,601.6 L466.2,601.5 L467.7,601.5 L469.2,601.4 L470.7,601.4 L472.2,601.4 L473.6,601.3 L475.1,601.3 L476.6,601.3 L478.1,601.2 L479.6,601.2 L481.1,601.2 L482.6,601.1 L484.1,601.1 L485.6,601.1 L487.1,601.1 L488.6,601.0 L490.1,601.0 L491.6,601.0 L493.0,601.0 L494.5,601.0 L496.0,600.9 L497.5,600.9 L499.0,600.9 L500.5,600.9 L502.0,600.9 L503.5,600.8 L505.0,600.8 L506.5,600.8 L508.0,600.8 L509.5,600.8 L511.0,600.8 L512.5,600.8 L514.0,600.8 L515.5,600.7 L517.0,600.7 L518.4,600.7 L519.9,600.7 L521.4,600.7 L522.9,600.7 L524.4,600.7 L525.9,600.7 L527.4,600.7 L528.9,600.7 L530.4,600.7 L531.9,600.7 L533.4,600.7 L534.9,600.7 L536.4,600.7 L537.9,600.7 L539.4,600.7 L540.9,600.7 L542.4,600.7 L543.9,600.7 L545.4,600.8 L546.9,600.8 L548.4,600.8 L549.9,600.8 L551.4,600.8 L552.9,600.8 L554.3,600.8 L555.8,600.8 L557.3,600.8 L558.8,600.9 L560.3,600.9 L561.8,600.9 L563.3,600.9 L564.8,600.9 L566.3,600.9 L567.8,601.0 L569.3,601.0 L570.8,601.0 L572.3,601.0 L573.8,601.1 L575.3,601.1 L576.8,601.1 L578.3,601.1 L579.8,601.2 L581.3,601.2 L582.8,601.2 L584.3,601.2 L585.8,601.3 L587.3,601.3 L588.8,601.3 L590.3,601.4 L591.8,601.4 L593.3,601.4 L594.8,601.4 L596.3,601.5 L597.8,601.5 L599.3,601.5 L600.8,601.6 L602.3,601.6 L603.8,601.7 L605.3,601.7 L606.8,601.7 L608.3,601.8 L609.8,601.8 L611.3,601.9 L612.8,601.9 L614.3,601.9 L615.8,602.0 L617.3,602.0 L618.8,602.1 L620.3,602.1 L621.8,602.2 L623.3,602.2 L624.8,602.2 L626.3,602.3 L627.8,602.3 L629.3,602.4 L630.8,602.4 L632.3,602.5 L633.8,602.5 L635.3,602.6 L636.8,602.6 L638.3,602.7 L639.8,602.7 L641.3,602.8 L642.8,602.8 L644.3,602.9 L645.8,603.0 L647.3,603.0 L648.8,603.1 L650.3,603.1 L651.8,603.2 L653.3,603.2 L654.8,603.3 L656.3,603.4 L657.8,603.4 L659.3,603.5 L660.8,603.5 L662.3,603.6 L663.8,603.7 L665.3,603.7 L666.8,603.8 L668.3,603.8 L669.8,603.9 L671.3,604.0 L672.8,604.0 L674.3,604.1 L675.8,604.2 L677.3,604.2 L678.8,604.3 L680.3,604.4 L681.8,604.4 L683.3,604.5 L684.8,604.6 L686.3,604.6 L687.8,604.7 L689.3,604.8 L690.8,604.9 L692.3,604.9 L693.8,605.0 L695.3,605.1 L696.8,605.1 L698.3,605.2 L699.8,605.3 L701.3,605.4 L702.8,605.4 L704.3,605.5 L705.8,605.6 L707.3,605.7 L708.8,605.7 L710.3,605.8 L711.8,605.9 L713.3,606.0 L714.8,606.1 L716.3,606.1 L717.8,606.2 L719.3,606.3 L720.8,606.4 L722.3,606.5 L723.8,606.5 L725.3,606.6 L726.8,606.7 L728.3,606.8 L729.8,606.9 L731.3,607.0 L732.8,607.0 L734.3,607.1 L735.8,607.2 L737.3,607.3 L738.8,607.4 L740.3,607.5 L741.8,607.5 L743.3,607.6 L744.8,607.7 L746.3,607.8 L747.8,607.9 L749.3,608.0 L750.8,608.1 L752.3,608.2 L753.8,608.3 L755.3,608.3 L756.8,608.4 L758.3,608.5 L759.8,608.6 L761.3,608.7 L762.8,608.8 L764.3,608.9 L765.8,609.0 L767.3,609.1 L768.8,609.2 L770.3,609.3 L771.8,609.4 L773.3,609.4 L774.8,609.5 L776.3,609.6 L777.8,609.7 L779.3,609.8 L780.8,609.9 L782.3,610.0 L783.8,610.1 L785.3,610.2 L786.8,610.3 L788.3,610.4 L789.8,610.5 L791.3,610.6 L792.8,610.7 L794.3,610.8 L795.8,610.9 L797.3,611.0 L798.8,611.1 L800.3,611.2 L801.8,611.3 L803.3,611.4 L804.8,611.5 L806.3,611.6 L807.8,611.7 L809.3,611.8 L810.8,611.9 L812.3,612.1 L813.8,612.2 L815.3,612.3 L816.8,612.4 L818.2,612.5 L819.7,612.6 L821.2,612.7 L822.7,612.8 L824.2,613.0 L825.7,613.1 L827.2,613.2 L828.7,613.3 L830.2,613.4 L831.7,613.6 L833.2,613.7 L834.7,613.8 L836.2,614.0 L837.7,614.1 L839.2,614.2 L840.7,614.3 L842.2,614.5 L843.7,614.6 L845.2,614.7 L846.6,614.9 L848.1,615.0 L849.6,615.2 L851.1,615.3 L852.6,615.4 L854.1,615.6 L855.6,615.7 L857.1,615.9 L858.6,616.0 L860.1,616.2 L861.6,616.3 L863.0,616.5 L864.5,616.7 L866.0,616.8 L867.5,617.0 L869.0,617.1 L870.5,617.3 L872.0,617.5 L873.5,617.6 L875.0,617.8 L876.4,618.0 L877.9,618.2 L879.4,618.3 L880.9,618.5 L882.4,618.7 L883.9,618.9 L885.4,619.1 L886.8,619.3 L888.3,619.5 L889.8,619.7 L891.3,619.8 L892.8,620.0 L894.2,620.2 L895.7,620.4 L897.2,620.7 L898.7,620.9 L900.2,621.1 L901.7,621.3 L903.1,621.5 L904.6,621.7 L906.1,621.9 L907.6,622.2 L909.0,622.4 L910.5,622.6 L912.0,622.8 L913.5,623.1 L915.0,623.3 L916.4,623.6 L917.9,623.8 L919.4,624.0 L920.8,624.3 L922.3,624.5 L923.8,624.8 L925.3,625.0 L926.7,625.3 L928.2,625.6 L929.7,625.8 L931.2,626.1 L932.6,626.4 L934.1,626.6 L935.6,626.9 L937.0,627.2 L938.5,627.5 L940.0,627.8 L941.4,628.1 L942.9,628.4 L944.4,628.6 L945.8,628.9 L947.3,629.2 L948.7,629.6 L950.2,629.9 L951.7,630.2 L953.1,630.5 L954.6,630.8 L956.1,631.1 L957.5,631.5 L959.0,631.8 L960.4,632.1 L961.9,632.5 L963.4,632.8 L964.8,633.2 L966.3,633.5 L967.7,633.8 L969.2,634.2 L970.6,634.6 L972.1,634.9 L973.5,635.3 L975.0,635.7 L976.4,636.0 L977.9,636.4 L979.3,636.8 L980.8,637.1 L982.2,637.5 L983.7,637.9 L985.2,638.3 L986.6,638.7 L988.1,639.0 L989.5,639.4 L991.0,639.8 L992.4,640.2 L993.9,640.6 L995.3,641.0 L996.8,641.4 L998.2,641.8 L999.7,642.2 L1001.1,642.6 L1002.6,643.0 L1004.0,643.3 L1005.5,643.7 L1006.9,644.1 L1008.4,644.5 L1009.8,644.9 L1011.3,645.3 L1012.7,645.7 L1014.2,646.1 L1015.6,646.5 L1017.1,646.9 L1018.5,647.3 L1020.0,647.7 L1021.4,648.0 L1022.9,648.4 L1024.3,648.8 L1025.8,649.2 L1027.2,649.6 L1028.7,650.0 L1030.2,650.3 L1031.6,650.7 L1033.1,651.1 L1034.5,651.5 L1036.0,651.8 L1037.5,652.2 L1038.9,652.6 L1040.4,652.9 L1041.8,653.3 L1043.3,653.6 L1044.8,654.0 L1046.2,654.3 L1047.7,654.7 L1049.2,655.0 L1050.6,655.3 L1052.1,655.7 L1053.6,656.0 L1055.0,656.3 L1056.5,656.6 L1058.0,657.0 L1059.5,657.3 L1060.9,657.6 L1062.4,657.9 L1063.9,658.2 L1065.4,658.5 L1066.9,658.8 L1068.3,659.1 L1069.8,659.3 L1071.3,659.6 L1072.8,659.9 L1074.3,660.2 L1075.7,660.4 L1077.2,660.7 L1078.7,660.9 L1080.2,661.2 L1081.7,661.4 L1083.2,661.7 L1084.6,661.9 L1086.1,662.1 L1087.6,662.3 L1089.1,662.5 L1090.6,662.8 L1092.1,663.0 L1093.6,663.2 L1095.1,663.4 L1096.6,663.5 L1098.0,663.7 L1099.5,663.9 L1101.0,664.1 L1102.5,664.2 L1104.0,664.4 L1105.5,664.6 L1107.0,664.7 L1108.5,664.8 L1110.0,665.0 L1111.5,665.1 L1113.0,665.2 L1114.4,665.3 L1115.9,665.5 L1117.4,665.6 L1118.9,665.7 L1120.4,665.7 L1121.9,665.8 L1123.4,665.9 L1124.9,666.0 L1126.4,666.0 L1127.9,666.1 L1129.4,666.1 L1130.9,666.2 L1132.3,666.2 L1133.8,666.2 L1135.3,666.3 L1136.8,666.3 L1138.3,666.3 L1139.8,666.3 L1141.3,666.3 L1142.8,666.3 L1144.3,666.2 L1145.7,666.2 L1147.2,666.2 L1148.7,666.1 L1150.2,666.1 L1151.7,666.0 L1153.2,665.9 L1154.7,665.8 L1156.1,665.7 L1157.6,665.7 L1159.1,665.5 L1160.6,665.4 L1162.1,665.3 L1163.6,665.2 L1165.0,665.0 L1166.5,664.9 L1168.0,664.8 L1169.5,664.6 L1170.9,664.4 L1172.4,664.2 L1173.9,664.1 L1175.4,663.9 L1176.9,663.7 L1178.3,663.5 L1179.8,663.2 L1181.3,663.0 L1182.7,662.8 L1184.2,662.6 L1185.7,662.3 L1187.2,662.1 L1188.6,661.8 L1190.1,661.6 L1191.6,661.3 L1193.0,661.0 L1194.5,660.7 L1196.0,660.4 L1197.4,660.2 L1198.9,659.9 L1200.4,659.5 L1201.8,659.2 L1203.3,658.9 L1204.7,658.6 L1206.2,658.3 L1207.7,657.9 L1209.1,657.6 L1210.6,657.3 L1212.1,656.9 L1213.5,656.6 L1215.0,656.2 L1216.4,655.8 L1217.9,655.5 L1219.3,655.1 L1220.8,654.7 L1222.3,654.4 L1223.7,654.0 L1225.2,653.6 L1226.6,653.2 L1228.1,652.8 L1229.5,652.4 L1231.0,652.0 L1232.4,651.6 L1233.9,651.2 L1235.3,650.8 L1236.8,650.3 L1238.2,649.9 L1239.7,649.5 L1241.1,649.1 L1242.6,648.6 L1244.0,648.2 L1245.5,647.8 L1246.9,647.3 L1248.4,646.9 L1249.8,646.5 L1251.3,646.0 L1252.7,645.6 L1254.2,645.1 L1255.6,644.7 L1257.0,644.2 L1258.5,643.8 L1259.9,643.3 L1261.4,642.9 L1262.8,642.4 L1264.3,641.9 L1265.7,641.5 L1267.1,641.0 L1268.6,640.6 L1270.0,640.1 L1271.5,639.6 L1272.9,639.2 L1274.3,638.7 L1275.8,638.2 L1277.2,637.8 L1278.7,637.3 L1280.1,636.8 L1281.5,636.4 L1283.0,635.9 L1284.4,635.4 L1285.8,634.9 L1287.3,634.5 L1288.7,634.0 L1290.1,633.5 L1291.6,633.1 L1293.0,632.6 L1294.4,632.1 L1295.9,631.7 L1297.3,631.2 L1298.7,630.8 L1300.2,630.3 L1301.6,629.8 L1303.0,629.4 L1304.5,628.9 L1305.9,628.5 L1307.3,628.0 L1308.8,627.6 L1310.2,627.1 L1311.6,626.6 L1313.1,626.2 L1314.5,625.7 L1315.9,625.3 L1317.3,624.9 L1318.8,624.4 L1320.2,624.0 L1321.6,623.5 L1323.1,623.1 L1324.5,622.6 L1325.9,622.2 L1327.4,621.8 L1328.8,621.3 L1330.2,620.9 L1331.6,620.5 L1333.1,620.0 L1334.5,619.6 L1335.9,619.2 L1337.4,618.8 L1338.8,618.3 L1340.2,617.9 L1341.7,617.5 L1343.1,617.1 L1344.5,616.7 L1346.0,616.2 L1347.4,615.8 L1348.8,615.4 L1350.3,615.0 L1351.7,614.6 L1353.1,614.2 L1354.6,613.8 L1356.0,613.4 L1357.4,613.0 L1358.9,612.6 L1360.3,612.2 L1361.7,611.8 L1363.2,611.4 L1364.6,611.0 L1366.0,610.6 L1367.5,610.2 L1368.9,609.8 L1370.4,609.5 L1371.8,609.1 L1373.2,608.7 L1374.7,608.3 L1376.1,608.0 L1377.6,607.6 L1379.0,607.2 L1380.5,606.8 L1381.9,606.5 L1383.4,606.1 L1384.8,605.8 L1386.2,605.4 L1387.7,605.0 L1389.1,604.7 L1390.6,604.3 L1392.0,604.0 L1393.5,603.6 L1395.0,603.3 L1396.4,603.0 L1397.9,602.6 L1399.3,602.3 L1400.8,602.0 L1402.2,601.6 L1403.7,601.3 L1405.2,601.0 L1406.6,600.6 L1408.1,600.3 L1409.5,600.0 L1411.0,599.7 L1412.5,599.4 L1413.9,599.1 L1415.4,598.8 L1416.9,598.5 L1418.3,598.2 L1419.8,597.9 L1421.3,597.6 L1422.8,597.3 L1424.2,597.0 L1425.7,596.7 L1427.2,596.4 L1428.7,596.1 L1430.2,595.8 L1431.6,595.6 L1433.1,595.3 L1434.6,595.0 L1436.1,594.8 L1437.6,594.5 L1439.1,594.2 L1440.6,594.0 L1442.0,593.7 L1443.5,593.5 L1445.0,593.2 L1446.5,593.0 L1448.0,592.7 L1449.5,592.5 L1451.0,592.3 L1452.5,592.0" fill="none" stroke="#00ffff" stroke-width="3" stroke-linejoin="round" stroke-linecap="round" shape-rendering="crispEdges"/>
<path d="M240.9,820.3 L242.4,820.1 L243.9,819.9 L245.4,819.6 L246.8,819.4 L248.3,819.2 L249.8,819.0 L251.3,818.8 L252.8,818.5 L254.3,818.3 L255.8,818.1 L257.3,817.9 L258.8,817.7 L260.3,817.5 L261.8,817.3 L263.3,817.1 L264.8,816.9 L266.2,816.7 L267.7,816.5 L269.2,816.3 L270.7,816.1 L272.2,815.9 L273.7,815.8 L275.2,815.6 L276.7,815.4 L278.2,815.2 L279.7,815.0 L281.2,814.8 L282.7,814.7 L284.2,814.5 L285.6,814.3 L287.1,814.2 L288.6,814.0 L290.1,813.8 L291.6,813.6 L293.1,813.5 L294.6,813.3 L296.1,813.2 L297.6,813.0 L299.1,812.8 L300.6,812.7 L302.1,812.5 L303.6,812.4 L305.1,812.2 L306.5,812.1 L308.0,811.9 L309.5,811.8 L311.0,811.6 L312.5,811.5 L314.0,811.4 L315.5,811.2 L317.0,811.1 L318.5,810.9 L320.0,810.8 L321.5,810.7 L323.0,810.5 L324.5,810.4 L326.0,810.3 L327.5,810.2 L329.0,810.0 L330.4,809.9 L331.9,809.8 L333.4,809.7 L334.9,809.6 L336.4,809.4 L337.9,809.3 L339.4,809.2 L340.9,809.1 L342.4,809.0 L343.9,808.9 L345.4,808.8 L346.9,808.7 L348.4,808.5 L349.9,808.4 L351.4,808.3 L352.9,808.2 L354.3,808.1 L355.8,808.0 L357.3,807.9 L358.8,807.8 L360.3,807.8 L361.8,807.7 L363.3,807.6 L364.8,807.5 L366.3,807.4 L367.8,807.3 L369.3,807.2 L370.8,807.1 L372.3,807.0 L373.8,807.0 L375.3,806.9 L376.8,806.8 L378.3,806.7 L379.7,806.6 L381.2,806.6 L382.7,806.5 L384.2,806.4 L385.7,806.4 L387.2,806.3 L388.7,806.2 L390.2,806.1 L391.7,806.1 L393.2,806.0 L394.7,805.9 L396.2,805.9 L397.7,805.8 L399.2,805.8 L400.7,805.7 L402.2,805.6 L403.7,805.6 L405.2,805.5 L406.7,805.5 L408.2,805.4 L409.6,805.4 L411.1,805.3 L412.6,805.3 L414.1,805.2 L415.6,805.2 L417.1,805.1 L418.6,805.1 L420.1,805.0 L421.6,805.0 L423.1,804.9 L424.6,804.9 L426.1,804.8 L427.6,804.8 L429.1,804.8 L430.6,804.7 L432.1,804.7 L433.6,804.7 L435.1,804.6 L436.6,804.6 L438.1,804.6 L439.6,804.5 L441.1,804.5 L442.5,804.5 L444.0,804.4 L445.5,804.4 L447.0,804.4 L448.5,804.3 L450.0,804.3 L451.5,804.3 L453.0,804.3 L454.5,804.3 L456.0,804.2 L457.5,804.2 L459.0,804.2 L460.5,804.2 L462.0,804.1 L463.5,804.1 L465.0,804.1 L466.5,804.1 L468.0,804.1 L469.5,804.1 L471.0,804.1 L472.5,804.0 L474.0,804.0 L475.5,804.0 L477.0,804.0 L478.5,804.0 L480.0,804.0 L481.5,804.0 L482.9,804.0 L484.4,804.0 L485.9,804.0 L487.4,804.0 L488.9,804.0 L490.4,804.0 L491.9,803.9 L493.4,803.9 L494.9,803.9 L496.4,803.9 L497.9,803.9 L499.4,803.9 L500.9,803.9 L502.4,803.9 L503.9,804.0 L505.4,804.0 L506.9,804.0 L508.4,804.0 L509.9,804.0 L511.4,804.0 L512.9,804.0 L514.4,804.0 L515.9,804.0 L517.4,804.0 L518.9,804.0 L520.4,804.0 L521.9,804.0 L523.4,804.0 L524.9,804.1 L526.4,804.1 L527.9,804.1 L529.4,804.1 L530.9,804.1 L532.4,804.1 L533.9,804.1 L535.4,804.1 L536.9,804.2 L538.4,804.2 L539.8,804.2 L541.3,804.2 L542.8,804.2 L544.3,804.2 L545.8,804.3 L547.3,804.3 L548.8,804.3 L550.3,804.3 L551.8,804.3 L553.3,804.3 L554.8,804.4 L556.3,804.4 L557.8,804.4 L559.3,804.4 L560.8,804.5 L562.3,804.5 L563.8,804.5 L565.3,804.5 L566.8,804.5 L568.3,804.6 L569.8,804.6 L571.3,804.6 L572.8,804.6 L574.3,804.7 L575.8,804.7 L577.3,804.7 L578.8,804.7 L580.3,804.8 L581.8,804.8 L583.3,804.8 L584.8,804.8 L586.3,804.9 L587.8,804.9 L589.3,804.9 L590.8,804.9 L592.3,805.0 L593.8,805.0 L595.3,805.0 L596.8,805.1 L598.3,805.1 L599.8,805.1 L601.3,805.1 L602.8,805.2 L604.3,805.2 L605.8,805.2 L607.3,805.3 L608.8,805.3 L610.3,805.3 L611.8,805.3 L613.3,805.4 L614.8,805.4 L616.3,805.4 L617.8,805.5 L619.3,805.5 L620.8,805.5 L622.3,805.5 L623.8,805.6 L625.3,805.6 L626.8,805.6 L628.3,805.7 L629.8,805.7 L631.3,805.7 L632.8,805.8 L634.3,805.8 L635.8,805.8 L637.3,805.8 L638.8,805.9 L640.3,805.9 L641.8,805.9 L643.3,806.0 L644.8,806.0 L646.3,806.0 L647.8,806.1 L649.3,806.1 L650.8,806.1 L652.3,806.1 L653.8,806.2 L655.3,806.2 L656.8,806.2 L658.3,806.3 L659.8,806.3 L661.3,806.3 L662.8,806.3 L664.3,806.4 L665.8,806.4 L667.3,806.4 L668.8,806.4 L670.3,806.5 L671.8,806.5 L673.3,806.5 L674.8,806.6 L676.3,806.6 L677.8,806.6 L679.3,806.6 L680.8,806.7 L682.3,806.7 L683.8,806.7 L685.3,806.7 L686.8,806.8 L688.3,806.8 L689.8,806.8 L691.3,806.8 L692.8,806.9 L694.3,806.9 L695.8,806.9 L697.3,806.9 L698.8,806.9 L700.3,807.0 L701.8,807.0 L703.3,807.0 L704.8,807.0 L706.3,807.1 L707.8,807.1 L709.3,807.1 L710.8,807.1 L712.3,807.2 L713.9,807.2 L715.4,807.2 L716.9,807.2 L718.4,807.3 L719.9,807.3 L721.4,807.3 L722.9,807.3 L724.4,807.4 L725.9,807.4 L727.4,807.4 L728.9,807.4 L730.4,807.5 L731.9,807.5 L733.4,807.5 L734.9,807.6 L736.4,807.6 L737.9,807.6 L739.4,807.6 L740.9,807.7 L742.4,807.7 L743.9,807.7 L745.4,807.8 L746.9,807.8 L748.4,807.8 L749.9,807.9 L751.4,807.9 L752.9,807.9 L754.4,808.0 L755.9,808.0 L757.4,808.0 L758.9,808.1 L760.4,808.1 L761.9,808.2 L763.4,808.2 L764.9,808.2 L766.4,808.3 L767.9,808.3 L769.4,808.4 L770.9,808.4 L772.4,808.5 L773.9,808.5 L775.4,808.5 L776.9,808.6 L778.4,808.6 L779.9,808.7 L781.4,808.7 L782.9,808.8 L784.4,808.9 L785.9,808.9 L787.4,809.0 L788.9,809.0 L790.4,809.1 L791.8,809.1 L793.3,809.2 L794.8,809.3 L796.3,809.3 L797.8,809.4 L799.3,809.4 L800.8,809.5 L802.3,809.6 L803.8,809.6 L805.3,809.7 L806.8,809.8 L808.3,809.9 L809.8,809.9 L811.3,810.0 L812.8,810.1 L814.3,810.2 L815.8,810.2 L817.3,810.3 L818.8,810.4 L820.3,810.5 L821.8,810.6 L823.3,810.7 L824.7,810.8 L826.2,810.8 L827.7,810.9 L829.2,811.0 L830.7,811.1 L832.2,811.2 L833.7,811.3 L835.2,811.4 L836.7,811.5 L838.2,811.6 L839.7,811.7 L841.2,811.8 L842.7,811.9 L844.1,812.1 L845.6,812.2 L847.1,812.3 L848.6,812.4 L850.1,812.5 L851.6,812.6 L853.1,812.8 L854.6,812.9 L856.1,813.0 L857.5,813.1 L859.0,813.3 L860.5,813.4 L862.0,813.5 L863.5,813.7 L865.0,813.8 L866.5,813.9 L868.0,814.1 L869.4,814.2 L870.9,814.4 L872.4,814.5 L873.9,814.7 L875.4,814.8 L876.9,815.0 L878.4,815.1 L879.8,815.3 L881.3,815.5 L882.8,815.6 L884.3,815.8 L885.8,816.0 L887.3,816.1 L888.7,816.3 L890.2,816.5 L891.7,816.7 L893.2,816.9 L894.7,817.0 L896.1,817.2 L897.6,817.4 L899.1,817.6 L900.6,817.8 L902.1,818.0 L903.5,818.2 L905.0,818.4 L906.5,818.6 L908.0,818.8 L909.5,819.0 L910.9,819.2 L912.4,819.4 L913.9,819.7 L915.4,819.9 L916.8,820.1 L918.3,820.3 L919.8,820.6 L921.3,820.8 L922.7,821.0 L924.2,821.3 L925.7,821.5 L927.2,821.7 L928.6,822.0 L930.1,822.2 L931.6,822.5 L933.1,822.7 L934.5,823.0 L936.0,823.3 L937.5,823.5 L938.9,823.8 L940.4,824.1 L941.9,824.3 L943.3,824.6 L944.8,824.9 L946.3,825.2 L947.8,825.5 L949.2,825.7 L950.7,826.0 L952.2,826.3 L953.6,826.6 L955.1,826.9 L956.6,827.2 L958.0,827.5 L959.5,827.8 L960.9,828.2 L962.4,828.5 L963.9,828.8 L965.3,829.1 L966.8,829.5 L968.3,829.8 L969.7,830.1 L971.2,830.5 L972.6,830.8 L974.1,831.1 L975.6,831.5 L977.0,831.8 L978.5,832.2 L979.9,832.6 L981.4,832.9 L982.9,833.3 L984.3,833.7 L985.8,834.0 L987.2,834.4 L988.7,834.8 L990.1,835.2 L991.6,835.6 L993.0,835.9 L994.5,836.3 L996.0,836.7 L997.4,837.1 L998.9,837.5 L1000.3,837.9 L1001.8,838.3 L1003.2,838.7 L1004.7,839.1 L1006.1,839.5 L1007.6,839.9 L1009.0,840.3 L1010.5,840.7 L1011.9,841.1 L1013.4,841.5 L1014.8,842.0 L1016.3,842.4 L1017.7,842.8 L1019.2,843.2 L1020.6,843.6 L1022.1,844.0 L1023.6,844.4 L1025.0,844.8 L1026.5,845.2 L1027.9,845.6 L1029.4,846.1 L1030.8,846.5 L1032.3,846.9 L1033.7,847.3 L1035.2,847.7 L1036.6,848.1 L1038.1,848.5 L1039.5,848.9 L1041.0,849.3 L1042.4,849.7 L1043.9,850.1 L1045.3,850.5 L1046.8,850.9 L1048.3,851.3 L1049.7,851.7 L1051.2,852.1 L1052.6,852.4 L1054.1,852.8 L1055.5,853.2 L1057.0,853.6 L1058.4,854.0 L1059.9,854.3 L1061.4,854.7 L1062.8,855.1 L1064.3,855.4 L1065.7,855.8 L1067.2,856.1 L1068.7,856.5 L1070.1,856.8 L1071.6,857.2 L1073.0,857.5 L1074.5,857.8 L1076.0,858.2 L1077.4,858.5 L1078.9,858.8 L1080.4,859.1 L1081.8,859.4 L1083.3,859.7 L1084.8,860.0 L1086.2,860.3 L1087.7,860.6 L1089.2,860.9 L1090.6,861.2 L1092.1,861.4 L1093.6,861.7 L1095.1,862.0 L1096.5,862.2 L1098.0,862.5 L1099.5,862.7 L1101.0,863.0 L1102.4,863.2 L1103.9,863.4 L1105.4,863.6 L1106.9,863.8 L1108.4,864.0 L1109.8,864.2 L1111.3,864.4 L1112.8,864.6 L1114.3,864.8 L1115.8,864.9 L1117.3,865.1 L1118.7,865.2 L1120.2,865.4 L1121.7,865.5 L1123.2,865.6 L1124.7,865.7 L1126.2,865.9 L1127.7,866.0 L1129.2,866.1 L1130.7,866.2 L1132.2,866.2 L1133.7,866.3 L1135.1,866.4 L1136.6,866.4 L1138.1,866.5 L1139.6,866.6 L1141.1,866.6 L1142.6,866.6 L1144.1,866.7 L1145.6,866.7 L1147.1,866.7 L1148.6,866.7 L1150.1,866.7 L1151.6,866.7 L1153.1,866.7 L1154.6,866.6 L1156.1,866.6 L1157.6,866.6 L1159.1,866.5 L1160.6,866.5 L1162.1,866.4 L1163.6,866.3 L1165.0,866.3 L1166.5,866.2 L1168.0,866.1 L1169.5,866.0 L1171.0,865.9 L1172.5,865.8 L1174.0,865.7 L1175.5,865.5 L1177.0,865.4 L1178.5,865.3 L1180.0,865.1 L1181.4,865.0 L1182.9,864.8 L1184.4,864.6 L1185.9,864.5 L1187.4,864.3 L1188.9,864.1 L1190.4,863.9 L1191.8,863.7 L1193.3,863.5 L1194.8,863.3 L1196.3,863.0 L1197.7,862.8 L1199.2,862.6 L1200.7,862.3 L1202.2,862.1 L1203.6,861.8 L1205.1,861.5 L1206.6,861.3 L1208.0,861.0 L1209.5,860.7 L1211.0,860.4 L1212.4,860.1 L1213.9,859.8 L1215.4,859.5 L1216.8,859.1 L1218.3,858.8 L1219.7,858.5 L1221.2,858.1 L1222.6,857.8 L1224.1,857.4 L1225.5,857.1 L1227.0,856.7 L1228.4,856.3 L1229.9,856.0 L1231.3,855.6 L1232.8,855.2 L1234.2,854.8 L1235.7,854.4 L1237.1,854.0 L1238.5,853.6 L1240.0,853.2 L1241.4,852.8 L1242.8,852.3 L1244.3,851.9 L1245.7,851.5 L1247.1,851.0 L1248.6,850.6 L1250.0,850.1 L1251.4,849.7 L1252.9,849.2 L1254.3,848.8 L1255.7,848.3 L1257.2,847.9 L1258.6,847.4 L1260.0,846.9 L1261.4,846.4 L1262.9,846.0 L1264.3,845.5 L1265.7,845.0 L1267.1,844.5 L1268.5,844.0 L1270.0,843.5 L1271.4,843.0 L1272.8,842.5 L1274.2,842.0 L1275.6,841.5 L1277.1,841.0 L1278.5,840.5 L1279.9,840.0 L1281.3,839.5 L1282.7,839.0 L1284.1,838.5 L1285.5,838.0 L1287.0,837.4 L1288.4,836.9 L1289.8,836.4 L1291.2,835.9 L1292.6,835.3 L1294.0,834.8 L1295.4,834.3 L1296.8,833.8 L1298.3,833.2 L1299.7,832.7 L1301.1,832.2 L1302.5,831.7 L1303.9,831.1 L1305.3,830.6 L1306.7,830.1 L1308.1,829.6 L1309.5,829.0 L1311.0,828.5 L1312.4,828.0 L1313.8,827.5 L1315.2,826.9 L1316.6,826.4 L1318.0,825.9 L1319.4,825.4 L1320.8,824.8 L1322.2,824.3 L1323.6,823.8 L1325.1,823.3 L1326.5,822.8 L1327.9,822.2 L1329.3,821.7 L1330.7,821.2 L1332.1,820.7 L1333.5,820.2 L1334.9,819.7 L1336.3,819.2 L1337.8,818.7 L1339.2,818.2 L1340.6,817.7 L1342.0,817.2 L1343.4,816.7 L1344.8,816.2 L1346.2,815.7 L1347.7,815.2 L1349.1,814.7 L1350.5,814.2 L1351.9,813.8 L1353.3,813.3 L1354.7,812.8 L1356.1,812.3 L1357.6,811.8 L1359.0,811.4 L1360.4,810.9 L1361.8,810.4 L1363.2,809.9 L1364.6,809.5 L1366.1,809.0 L1367.5,808.5 L1368.9,808.1 L1370.3,807.6 L1371.7,807.1 L1373.2,806.7 L1374.6,806.2 L1376.0,805.8 L1377.4,805.3 L1378.9,804.9 L1380.3,804.4 L1381.7,803.9 L1383.1,803.5 L1384.5,803.0 L1386.0,802.6 L1387.4,802.1 L1388.8,801.7 L1390.2,801.2 L1391.7,800.8 L1393.1,800.4 L1394.5,799.9 L1395.9,799.5 L1397.4,799.0 L1398.8,798.6 L1400.2,798.2 L1401.7,797.7 L1403.1,797.3 L1404.5,796.8 L1406.0,796.4 L1407.4,796.0 L1408.8,795.5 L1410.2,795.1 L1411.7,794.7 L1413.1,794.2 L1414.5,793.8 L1416.0,793.4 L1417.4,793.0 L1418.8,792.5 L1420.3,792.1 L1421.7,791.7 L1423.2,791.3 L1424.6,790.8 L1426.0,790.4 L1427.5,790.0 L1428.9,789.6 L1430.3,789.1 L1431.8,788.7 L1433.2,788.3 L1434.7,787.9 L1436.1,787.5 L1437.6,787.0 L1439.0,786.6 L1440.4,786.2 L1441.9,785.8 L1443.3,785.4 L1444.8,785.0 L1446.2,784.5 L1447.7,784.1 L1449.1,783.7 L1450.6,783.3 L1452.0,782.9" fill="none" stroke="#0000ff" stroke-width="3" stroke-linejoin="round" stroke-linecap="round" shape-rendering="crispEdges"/>
<path d="M240.9,996.1 L242.3,995.5 L243.7,995.0 L245.1,994.4 L246.5,993.9 L247.9,993.4 L249.3,992.9 L250.7,992.4 L252.1,991.9 L253.6,991.4 L255.0,991.0 L256.4,990.6 L257.8,990.1 L259.3,989.7 L260.7,989.3 L262.2,988.9 L263.6,988.5 L265.1,988.2 L266.5,987.8 L268.0,987.4 L269.4,987.1 L270.9,986.8 L272.3,986.4 L273.8,986.1 L275.3,985.8 L276.7,985.5 L278.2,985.2 L279.7,984.9 L281.1,984.6 L282.6,984.4 L284.1,984.1 L285.6,983.8 L287.0,983.6 L288.5,983.3 L290.0,983.1 L291.5,982.9 L293.0,982.6 L294.5,982.4 L296.0,982.2 L297.4,982.0 L298.9,981.7 L300.4,981.5 L301.9,981.3 L303.4,981.1 L304.9,980.9 L306.4,980.7 L307.9,980.5 L309.3,980.3 L310.8,980.1 L312.3,980.0 L313.8,979.8 L315.3,979.6 L316.8,979.4 L318.3,979.2 L319.8,979.1 L321.3,978.9 L322.8,978.7 L324.3,978.6 L325.7,978.4 L327.2,978.2 L328.7,978.1 L330.2,977.9 L331.7,977.8 L333.2,977.6 L334.7,977.5 L336.2,977.3 L337.7,977.2 L339.2,977.0 L340.7,976.9 L342.2,976.8 L343.7,976.6 L345.2,976.5 L346.6,976.4 L348.1,976.2 L349.6,976.1 L351.1,976.0 L352.6,975.9 L354.1,975.8 L355.6,975.6 L357.1,975.5 L358.6,975.4 L360.1,975.3 L361.6,975.2 L363.1,975.1 L364.6,975.0 L366.1,974.9 L367.6,974.8 L369.1,974.7 L370.6,974.6 L372.1,974.5 L373.6,974.4 L375.1,974.3 L376.5,974.2 L378.0,974.1 L379.5,974.0 L381.0,973.9 L382.5,973.9 L384.0,973.8 L385.5,973.7 L387.0,973.6 L388.5,973.5 L390.0,973.5 L391.5,973.4 L393.0,973.3 L394.5,973.2 L396.0,973.2 L397.5,973.1 L399.0,973.0 L400.5,973.0 L402.0,972.9 L403.5,972.8 L405.0,972.8 L406.5,972.7 L408.0,972.6 L409.5,972.6 L411.0,972.5 L412.5,972.5 L414.0,972.4 L415.5,972.4 L417.0,972.3 L418.5,972.2 L420.0,972.2 L421.5,972.1 L423.0,972.1 L424.5,972.0 L426.0,972.0 L427.5,971.9 L429.0,971.9 L430.5,971.8 L432.0,971.8 L433.4,971.7 L434.9,971.7 L436.4,971.7 L437.9,971.6 L439.4,971.6 L440.9,971.5 L442.4,971.5 L443.9,971.4 L445.4,971.4 L446.9,971.4 L448.4,971.3 L449.9,971.3 L451.4,971.2 L452.9,971.2 L454.4,971.2 L455.9,971.1 L457.4,971.1 L458.9,971.1 L460.4,971.0 L461.9,971.0 L463.4,971.0 L464.9,970.9 L466.4,970.9 L467.9,970.9 L469.4,970.9 L470.9,970.8 L472.4,970.8 L473.9,970.8 L475.4,970.7 L476.9,970.7 L478.4,970.7 L479.9,970.7 L481.4,970.6 L482.9,970.6 L484.4,970.6 L485.9,970.6 L487.4,970.6 L488.9,970.5 L490.4,970.5 L491.9,970.5 L493.4,970.5 L494.9,970.5 L496.4,970.4 L497.9,970.4 L499.4,970.4 L500.9,970.4 L502.4,970.4 L503.9,970.4 L505.4,970.4 L506.9,970.3 L508.3,970.3 L509.8,970.3 L511.3,970.3 L512.8,970.3 L514.3,970.3 L515.8,970.3 L517.3,970.3 L518.8,970.3 L520.3,970.3 L521.8,970.3 L523.3,970.2 L524.8,970.2 L526.3,970.2 L527.8,970.2 L529.3,970.2 L530.8,970.2 L532.3,970.2 L533.8,970.2 L535.3,970.2 L536.8,970.2 L538.3,970.2 L539.8,970.2 L541.3,970.2 L542.8,970.2 L544.3,970.2 L545.8,970.2 L547.3,970.2 L548.8,970.2 L550.3,970.2 L551.8,970.3 L553.3,970.3 L554.8,970.3 L556.3,970.3 L557.8,970.3 L559.3,970.3 L560.8,970.3 L562.3,970.3 L563.8,970.3 L565.3,970.3 L566.8,970.3 L568.3,970.4 L569.8,970.4 L571.3,970.4 L572.8,970.4 L574.3,970.4 L575.8,970.4 L577.3,970.4 L578.8,970.5 L580.3,970.5 L581.8,970.5 L583.3,970.5 L584.8,970.5 L586.3,970.5 L587.8,970.6 L589.3,970.6 L590.8,970.6 L592.3,970.6 L593.8,970.6 L595.3,970.7 L596.8,970.7 L598.2,970.7 L599.7,970.7 L601.2,970.8 L602.7,970.8 L604.2,970.8 L605.7,970.8 L607.2,970.9 L608.7,970.9 L610.2,970.9 L611.7,970.9 L613.2,971.0 L614.7,971.0 L616.2,971.0 L617.7,971.1 L619.2,971.1 L620.7,971.1 L622.2,971.1 L623.7,971.2 L625.2,971.2 L626.7,971.2 L628.2,971.3 L629.7,971.3 L631.2,971.3 L632.7,971.4 L634.2,971.4 L635.7,971.4 L637.2,971.5 L638.7,971.5 L640.2,971.5 L641.7,971.6 L643.2,971.6 L644.7,971.7 L646.2,971.7 L647.7,971.7 L649.2,971.8 L650.7,971.8 L652.2,971.9 L653.7,971.9 L655.2,971.9 L656.7,972.0 L658.2,972.0 L659.7,972.1 L661.2,972.1 L662.7,972.1 L664.2,972.2 L665.7,972.2 L667.2,972.3 L668.7,972.3 L670.2,972.4 L671.7,972.4 L673.2,972.5 L674.7,972.5 L676.2,972.5 L677.7,972.6 L679.2,972.6 L680.7,972.7 L682.2,972.7 L683.7,972.8 L685.2,972.8 L686.7,972.9 L688.2,972.9 L689.7,973.0 L691.2,973.0 L692.7,973.1 L694.2,973.1 L695.7,973.2 L697.2,973.2 L698.7,973.3 L700.2,973.4 L701.7,973.4 L703.2,973.5 L704.7,973.5 L706.2,973.6 L707.7,973.6 L709.2,973.7 L710.7,973.7 L712.2,973.8 L713.7,973.9 L715.2,973.9 L716.7,974.0 L718.2,974.0 L719.7,974.1 L721.2,974.2 L722.7,974.2 L724.2,974.3 L725.7,974.3 L727.2,974.4 L728.7,974.5 L730.2,974.5 L731.7,974.6 L733.2,974.7 L734.7,974.7 L736.2,974.8 L737.7,974.9 L739.2,975.0 L740.7,975.0 L742.2,975.1 L743.7,975.2 L745.1,975.2 L746.6,975.3 L748.1,975.4 L749.6,975.5 L751.1,975.5 L752.6,975.6 L754.1,975.7 L755.6,975.8 L757.1,975.9 L758.6,975.9 L760.1,976.0 L761.6,976.1 L763.1,976.2 L764.6,976.3 L766.1,976.3 L767.6,976.4 L769.1,976.5 L770.6,976.6 L772.1,976.7 L773.6,976.8 L775.1,976.9 L776.6,977.0 L778.1,977.1 L779.6,977.1 L781.1,977.2 L782.6,977.3 L784.1,977.4 L785.6,977.5 L787.1,977.6 L788.6,977.7 L790.1,977.8 L791.6,977.9 L793.1,978.0 L794.5,978.1 L796.0,978.2 L797.5,978.3 L799.0,978.4 L800.5,978.6 L802.0,978.7 L803.5,978.8 L805.0,978.9 L806.5,979.0 L808.0,979.1 L809.5,979.2 L811.0,979.3 L812.5,979.5 L814.0,979.6 L815.5,979.7 L817.0,979.8 L818.5,979.9 L820.0,980.1 L821.4,980.2 L822.9,980.3 L824.4,980.4 L825.9,980.6 L827.4,980.7 L828.9,980.8 L830.4,980.9 L831.9,981.1 L833.4,981.2 L834.9,981.3 L836.4,981.5 L837.9,981.6 L839.3,981.8 L840.8,981.9 L842.3,982.0 L843.8,982.2 L845.3,982.3 L846.8,982.5 L848.3,982.6 L849.8,982.8 L851.3,982.9 L852.8,983.1 L854.3,983.2 L855.7,983.4 L857.2,983.5 L858.7,983.7 L860.2,983.8 L861.7,984.0 L863.2,984.2 L864.7,984.3 L866.2,984.5 L867.6,984.6 L869.1,984.8 L870.6,985.0 L872.1,985.2 L873.6,985.3 L875.1,985.5 L876.6,985.7 L878.1,985.8 L879.5,986.0 L881.0,986.2 L882.5,986.4 L884.0,986.6 L885.5,986.7 L887.0,986.9 L888.5,987.1 L889.9,987.3 L891.4,987.5 L892.9,987.7 L894.4,987.9 L895.9,988.1 L897.4,988.3 L898.8,988.5 L900.3,988.7 L901.8,988.9 L903.3,989.1 L904.8,989.3 L906.3,989.5 L907.7,989.7 L909.2,989.9 L910.7,990.1 L912.2,990.3 L913.7,990.5 L915.1,990.8 L916.6,991.0 L918.1,991.2 L919.6,991.4 L921.1,991.7 L922.5,991.9 L924.0,992.1 L925.5,992.3 L927.0,992.6 L928.5,992.8 L929.9,993.0 L931.4,993.3 L932.9,993.5 L934.4,993.8 L935.8,994.0 L937.3,994.2 L938.8,994.5 L940.3,994.7 L941.7,995.0 L943.2,995.2 L944.7,995.5 L946.2,995.7 L947.6,996.0 L949.1,996.3 L950.6,996.5 L952.1,996.8 L953.5,997.1 L955.0,997.3 L956.5,997.6 L958.0,997.9 L959.4,998.1 L960.9,998.4 L962.4,998.7 L963.9,999.0 L965.3,999.3 L966.8,999.5 L968.3,999.8 L969.7,1000.1 L971.2,1000.4 L972.7,1000.7 L974.1,1001.0 L975.6,1001.3 L977.1,1001.6 L978.5,1001.9 L980.0,1002.2 L981.5,1002.5 L983.0,1002.8 L984.4,1003.1 L985.9,1003.4 L987.4,1003.7 L988.8,1004.1 L990.3,1004.4 L991.7,1004.7 L993.2,1005.0 L994.7,1005.3 L996.1,1005.7 L997.6,1006.0 L999.1,1006.3 L1000.5,1006.7 L1002.0,1007.0 L1003.5,1007.3 L1004.9,1007.7 L1006.4,1008.0 L1007.8,1008.4 L1009.3,1008.7 L1010.8,1009.1 L1012.2,1009.4 L1013.7,1009.8 L1015.1,1010.1 L1016.6,1010.5 L1018.1,1010.8 L1019.5,1011.2 L1021.0,1011.6 L1022.4,1011.9 L1023.9,1012.3 L1025.4,1012.7 L1026.8,1013.1 L1028.3,1013.4 L1029.7,1013.8 L1031.2,1014.2 L1032.6,1014.5 L1034.1,1014.9 L1035.6,1015.3 L1037.0,1015.6 L1038.5,1016.0 L1039.9,1016.3 L1041.4,1016.7 L1042.9,1017.0 L1044.3,1017.3 L1045.8,1017.7 L1047.3,1018.0 L1048.7,1018.3 L1050.2,1018.6 L1051.7,1018.9 L1053.1,1019.2 L1054.6,1019.5 L1056.1,1019.8 L1057.5,1020.1 L1059.0,1020.3 L1060.5,1020.6 L1062.0,1020.8 L1063.5,1021.0 L1064.9,1021.2 L1066.4,1021.4 L1067.9,1021.6 L1069.4,1021.8 L1070.9,1022.0 L1072.4,1022.1 L1073.9,1022.3 L1075.4,1022.4 L1076.9,1022.5 L1078.4,1022.6 L1079.9,1022.7 L1081.4,1022.8 L1082.9,1022.9 L1084.4,1023.0 L1085.9,1023.1 L1087.4,1023.1 L1088.9,1023.2 L1090.4,1023.3 L1091.9,1023.3 L1093.4,1023.3 L1094.9,1023.4 L1096.4,1023.4 L1097.9,1023.4 L1099.4,1023.4 L1100.9,1023.4 L1102.4,1023.4 L1103.9,1023.4 L1105.4,1023.4 L1106.9,1023.4 L1108.4,1023.4 L1109.9,1023.3 L1111.4,1023.3 L1112.9,1023.2 L1114.4,1023.2 L1115.9,1023.1 L1117.4,1023.0 L1118.9,1023.0 L1120.4,1022.9 L1121.9,1022.8 L1123.4,1022.7 L1124.9,1022.6 L1126.4,1022.5 L1127.9,1022.3 L1129.4,1022.2 L1130.9,1022.1 L1132.4,1021.9 L1133.8,1021.7 L1135.3,1021.6 L1136.8,1021.4 L1138.3,1021.2 L1139.8,1021.0 L1141.3,1020.8 L1142.8,1020.6 L1144.2,1020.4 L1145.7,1020.2 L1147.2,1019.9 L1148.7,1019.7 L1150.2,1019.4 L1151.6,1019.2 L1153.1,1018.9 L1154.6,1018.7 L1156.0,1018.4 L1157.5,1018.1 L1159.0,1017.8 L1160.4,1017.5 L1161.9,1017.2 L1163.4,1016.8 L1164.8,1016.5 L1166.3,1016.2 L1167.7,1015.8 L1169.2,1015.5 L1170.7,1015.1 L1172.1,1014.8 L1173.6,1014.4 L1175.0,1014.0 L1176.4,1013.6 L1177.9,1013.2 L1179.3,1012.8 L1180.8,1012.4 L1182.2,1012.0 L1183.7,1011.6 L1185.1,1011.2 L1186.5,1010.7 L1188.0,1010.3 L1189.4,1009.9 L1190.8,1009.4 L1192.2,1008.9 L1193.7,1008.5 L1195.1,1008.0 L1196.5,1007.5 L1197.9,1007.1 L1199.4,1006.6 L1200.8,1006.1 L1202.2,1005.6 L1203.6,1005.1 L1205.0,1004.5 L1206.4,1004.0 L1207.8,1003.5 L1209.2,1003.0 L1210.6,1002.4 L1212.0,1001.9 L1213.4,1001.4 L1214.8,1000.8 L1216.2,1000.2 L1217.6,999.7 L1219.0,999.1 L1220.4,998.5 L1221.7,998.0 L1223.1,997.4 L1224.5,996.8 L1225.9,996.2 L1227.3,995.6 L1228.6,995.0 L1230.0,994.4 L1231.4,993.8 L1232.7,993.2 L1234.1,992.6 L1235.5,992.0 L1236.8,991.4 L1238.2,990.7 L1239.6,990.1 L1240.9,989.5 L1242.3,988.9 L1243.7,988.2 L1245.0,987.6 L1246.4,987.0 L1247.7,986.3 L1249.1,985.7 L1250.4,985.1 L1251.8,984.4 L1253.2,983.8 L1254.5,983.2 L1255.9,982.5 L1257.2,981.9 L1258.6,981.3 L1259.9,980.6 L1261.3,980.0 L1262.7,979.4 L1264.0,978.7 L1265.4,978.1 L1266.7,977.5 L1268.1,976.8 L1269.4,976.2 L1270.8,975.6 L1272.2,975.0 L1273.5,974.4 L1274.9,973.8 L1276.3,973.1 L1277.6,972.5 L1279.0,971.9 L1280.4,971.3 L1281.7,970.7 L1283.1,970.1 L1284.5,969.6 L1285.9,969.0 L1287.2,968.4 L1288.6,967.8 L1290.0,967.2 L1291.4,966.7 L1292.8,966.1 L1294.1,965.5 L1295.5,965.0 L1296.9,964.4 L1298.3,963.8 L1299.7,963.3 L1301.1,962.7 L1302.5,962.2 L1303.8,961.6 L1305.2,961.1 L1306.6,960.5 L1308.0,960.0 L1309.4,959.4 L1310.8,958.9 L1312.2,958.4 L1313.6,957.8 L1315.0,957.3 L1316.4,956.8 L1317.8,956.2 L1319.2,955.7 L1320.6,955.2 L1322.0,954.6 L1323.4,954.1 L1324.8,953.6 L1326.2,953.0 L1327.6,952.5 L1329.0,952.0 L1330.4,951.5 L1331.8,950.9 L1333.2,950.4 L1334.6,949.9 L1336.0,949.3 L1337.4,948.8 L1338.8,948.3 L1340.2,947.8 L1341.6,947.2 L1343.0,946.7 L1344.4,946.2 L1345.8,945.7 L1347.2,945.1 L1348.6,944.6 L1350.1,944.1 L1351.5,943.6 L1352.9,943.0 L1354.3,942.5 L1355.7,942.0 L1357.1,941.5 L1358.5,940.9 L1359.9,940.4 L1361.3,939.9 L1362.7,939.4 L1364.1,938.9 L1365.5,938.4 L1367.0,937.9 L1368.4,937.4 L1369.8,936.8 L1371.2,936.3 L1372.6,935.8 L1374.0,935.3 L1375.4,934.8 L1376.9,934.3 L1378.3,933.8 L1379.7,933.4 L1381.1,932.9 L1382.5,932.4 L1384.0,931.9 L1385.4,931.4 L1386.8,930.9 L1388.2,930.5 L1389.6,930.0 L1391.1,929.5 L1392.5,929.1 L1393.9,928.6 L1395.3,928.1 L1396.8,927.7 L1398.2,927.2 L1399.6,926.8 L1401.1,926.3 L1402.5,925.9 L1403.9,925.5 L1405.4,925.0 L1406.8,924.6 L1408.2,924.2 L1409.7,923.8 L1411.1,923.4 L1412.6,922.9 L1414.0,922.5 L1415.4,922.1 L1416.9,921.8 L1418.3,921.4 L1419.8,921.0 L1421.2,920.6 L1422.7,920.2 L1424.1,919.9 L1425.6,919.5 L1427.0,919.1 L1428.5,918.8 L1429.9,918.4 L1431.4,918.1 L1432.9,917.8 L1434.3,917.4 L1435.8,917.1 L1437.2,916.8 L1438.7,916.5 L1440.2,916.2 L1441.6,915.9 L1443.1,915.6 L1444.6,915.3 L1446.1,915.0 L1447.5,914.8 L1449.0,914.5 L1450.5,914.2 L1452.0,914.0" fill="none" stroke="#00ff00" stroke-width="3" stroke-linejoin="round" stroke-linecap="round" shape-rendering="crispEdges"/>
<path d="M322.4,1147.3 L322.4,1145.6 L322.5,1144.0 L322.7,1142.5 L322.9,1140.9 L323.2,1139.3 L323.5,1137.8 L323.9,1136.3 L324.3,1134.8 L324.8,1133.3 L325.3,1131.9 L325.9,1130.5 L326.5,1129.1 L327.2,1127.7 L327.9,1126.4 L328.6,1125.0 L329.4,1123.7 L330.2,1122.4 L331.0,1121.2 L331.9,1120.0 L332.8,1118.8 L333.7,1117.6 L334.7,1116.5 L335.7,1115.4 L336.7,1114.3 L337.8,1113.3 L338.8,1112.3 L339.9,1111.3 L341.0,1110.3 L342.1,1109.4 L343.3,1108.5 L344.5,1107.6 L345.7,1106.8 L346.9,1106.0 L348.1,1105.2 L349.3,1104.5 L350.6,1103.7 L351.9,1103.0 L353.2,1102.3 L354.5,1101.7 L355.8,1101.0 L357.2,1100.4 L358.5,1099.8 L359.9,1099.2 L361.2,1098.7 L362.6,1098.1 L364.0,1097.6 L365.4,1097.1 L366.9,1096.6 L368.3,1096.1 L369.7,1095.7 L371.2,1095.2 L372.6,1094.8 L374.1,1094.4 L375.5,1094.0 L377.0,1093.6 L378.4,1093.2 L379.9,1092.8 L381.4,1092.5 L382.9,1092.1 L384.4,1091.8 L385.8,1091.4 L387.3,1091.1 L388.8,1090.8 L390.3,1090.4 L391.8,1090.1 L393.3,1089.8 L394.7,1089.5 L396.2,1089.2 L397.7,1088.9 L399.2,1088.6 L400.7,1088.4 L402.2,1088.1 L403.7,1087.8 L405.1,1087.6 L406.6,1087.3 L408.1,1087.0 L409.6,1086.8 L411.1,1086.6 L412.6,1086.3 L414.1,1086.1 L415.6,1085.9 L417.0,1085.6 L418.5,1085.4 L420.0,1085.2 L421.5,1085.0 L423.0,1084.8 L424.5,1084.6 L426.0,1084.4 L427.5,1084.3 L429.0,1084.1 L430.5,1083.9 L431.9,1083.7 L433.4,1083.6 L434.9,1083.4 L436.4,1083.2 L437.9,1083.1 L439.4,1082.9 L440.9,1082.8 L442.4,1082.7 L443.9,1082.5 L445.4,1082.4 L446.9,1082.3 L448.4,1082.2 L449.9,1082.0 L451.4,1081.9 L452.8,1081.8 L454.3,1081.7 L455.8,1081.6 L457.3,1081.5 L458.8,1081.4 L460.3,1081.3 L461.8,1081.2 L463.3,1081.2 L464.8,1081.1 L466.3,1081.0 L467.8,1080.9 L469.3,1080.9 L470.8,1080.8 L472.3,1080.7 L473.8,1080.7 L475.3,1080.6 L476.8,1080.6 L478.3,1080.5 L479.8,1080.5 L481.3,1080.4 L482.8,1080.4 L484.3,1080.4 L485.8,1080.3 L487.3,1080.3 L488.8,1080.3 L490.3,1080.2 L491.8,1080.2 L493.3,1080.2 L494.8,1080.2 L496.3,1080.2 L497.8,1080.2 L499.2,1080.1 L500.7,1080.1 L502.2,1080.1 L503.7,1080.1 L505.2,1080.1 L506.7,1080.1 L508.2,1080.1 L509.7,1080.1 L511.2,1080.2 L512.7,1080.2 L514.2,1080.2 L515.7,1080.2 L517.2,1080.2 L518.7,1080.2 L520.2,1080.2 L521.7,1080.3 L523.2,1080.3 L524.7,1080.3 L526.2,1080.3 L527.7,1080.4 L529.2,1080.4 L530.7,1080.4 L532.2,1080.5 L533.7,1080.5 L535.2,1080.5 L536.7,1080.6 L538.2,1080.6 L539.7,1080.6 L541.2,1080.7 L542.7,1080.7 L544.2,1080.8 L545.7,1080.8 L547.2,1080.8 L548.7,1080.9 L550.2,1080.9 L551.7,1081.0 L553.2,1081.0 L554.7,1081.1 L556.2,1081.1 L557.7,1081.2 L559.2,1081.2 L560.7,1081.2 L562.2,1081.3 L563.7,1081.3 L565.2,1081.4 L566.7,1081.4 L568.2,1081.5 L569.7,1081.5 L571.2,1081.6 L572.7,1081.6 L574.2,1081.7 L575.7,1081.7 L577.2,1081.8 L578.7,1081.9 L580.2,1081.9 L581.7,1082.0 L583.2,1082.0 L584.7,1082.1 L586.2,1082.1 L587.7,1082.2 L589.2,1082.2 L590.7,1082.3 L592.2,1082.3 L593.7,1082.4 L595.2,1082.5 L596.7,1082.5 L598.2,1082.6 L599.7,1082.6 L601.2,1082.7 L602.7,1082.8 L604.2,1082.8 L605.7,1082.9 L607.2,1082.9 L608.7,1083.0 L610.1,1083.1 L611.6,1083.1 L613.1,1083.2 L614.6,1083.3 L616.1,1083.3 L617.6,1083.4 L619.1,1083.4 L620.6,1083.5 L622.1,1083.6 L623.6,1083.6 L625.1,1083.7 L626.6,1083.8 L628.1,1083.8 L629.6,1083.9 L631.1,1084.0 L632.6,1084.0 L634.1,1084.1 L635.6,1084.2 L637.1,1084.3 L638.6,1084.3 L640.1,1084.4 L641.6,1084.5 L643.1,1084.5 L644.6,1084.6 L646.1,1084.7 L647.6,1084.8 L649.1,1084.8 L650.6,1084.9 L652.1,1085.0 L653.5,1085.1 L655.0,1085.1 L656.5,1085.2 L658.0,1085.3 L659.5,1085.4 L661.0,1085.4 L662.5,1085.5 L664.0,1085.6 L665.5,1085.7 L667.0,1085.8 L668.5,1085.8 L670.0,1085.9 L671.5,1086.0 L673.0,1086.1 L674.5,1086.2 L676.0,1086.2 L677.5,1086.3 L679.0,1086.4 L680.5,1086.5 L682.0,1086.6 L683.5,1086.7 L685.0,1086.8 L686.5,1086.8 L687.9,1086.9 L689.4,1087.0 L690.9,1087.1 L692.4,1087.2 L693.9,1087.3 L695.4,1087.4 L696.9,1087.5 L698.4,1087.5 L699.9,1087.6 L701.4,1087.7 L702.9,1087.8 L704.4,1087.9 L705.9,1088.0 L707.4,1088.1 L708.9,1088.2 L710.4,1088.3 L711.9,1088.4 L713.4,1088.5 L714.9,1088.6 L716.4,1088.7 L717.9,1088.8 L719.4,1088.9 L720.8,1089.0 L722.3,1089.1 L723.8,1089.2 L725.3,1089.3 L726.8,1089.4 L728.3,1089.5 L729.8,1089.6 L731.3,1089.7 L732.8,1089.8 L734.3,1089.9 L735.8,1090.0 L737.3,1090.1 L738.8,1090.2 L740.3,1090.3 L741.8,1090.4 L743.3,1090.5 L744.8,1090.6 L746.3,1090.7 L747.8,1090.8 L749.3,1090.9 L750.8,1091.0 L752.3,1091.1 L753.7,1091.3 L755.2,1091.4 L756.7,1091.5 L758.2,1091.6 L759.7,1091.7 L761.2,1091.8 L762.7,1091.9 L764.2,1092.0 L765.7,1092.2 L767.2,1092.3 L768.7,1092.4 L770.2,1092.5 L771.7,1092.6 L773.2,1092.7 L774.7,1092.8 L776.2,1093.0 L777.7,1093.1 L779.2,1093.2 L780.7,1093.3 L782.2,1093.4 L783.7,1093.6 L785.2,1093.7 L786.7,1093.8 L788.2,1093.9 L789.6,1094.1 L791.1,1094.2 L792.6,1094.3 L794.1,1094.4 L795.6,1094.6 L797.1,1094.7 L798.6,1094.8 L800.1,1094.9 L801.6,1095.1 L803.1,1095.2 L804.6,1095.3 L806.1,1095.5 L807.6,1095.6 L809.1,1095.7 L810.6,1095.8 L812.1,1096.0 L813.6,1096.1 L815.1,1096.2 L816.6,1096.4 L818.1,1096.5 L819.6,1096.6 L821.1,1096.8 L822.6,1096.9 L824.1,1097.1 L825.6,1097.2 L827.1,1097.3 L828.6,1097.5 L830.1,1097.6 L831.5,1097.7 L833.0,1097.9 L834.5,1098.0 L836.0,1098.2 L837.5,1098.3 L839.0,1098.5 L840.5,1098.6 L842.0,1098.8 L843.5,1098.9 L845.0,1099.1 L846.5,1099.2 L848.0,1099.4 L849.5,1099.5 L851.0,1099.7 L852.5,1099.8 L854.0,1100.0 L855.5,1100.1 L857.0,1100.3 L858.5,1100.4 L860.0,1100.6 L861.5,1100.8 L863.0,1100.9 L864.5,1101.1 L865.9,1101.3 L867.4,1101.4 L868.9,1101.6 L870.4,1101.8 L871.9,1101.9 L873.4,1102.1 L874.9,1102.3 L876.4,1102.5 L877.9,1102.7 L879.4,1102.8 L880.9,1103.0 L882.4,1103.2 L883.8,1103.4 L885.3,1103.6 L886.8,1103.8 L888.3,1104.0 L889.8,1104.2 L891.3,1104.4 L892.8,1104.6 L894.3,1104.8 L895.8,1105.0 L897.2,1105.2 L898.7,1105.4 L900.2,1105.6 L901.7,1105.8 L903.2,1106.0 L904.7,1106.2 L906.1,1106.4 L907.6,1106.7 L909.1,1106.9 L910.6,1107.1 L912.1,1107.3 L913.6,1107.6 L915.0,1107.8 L916.5,1108.0 L918.0,1108.3 L919.5,1108.5 L921.0,1108.7 L922.4,1109.0 L923.9,1109.2 L925.4,1109.5 L926.9,1109.7 L928.3,1110.0 L929.8,1110.3 L931.3,1110.5 L932.8,1110.8 L934.2,1111.0 L935.7,1111.3 L937.2,1111.6 L938.6,1111.9 L940.1,1112.1 L941.6,1112.4 L943.1,1112.7 L944.5,1113.0 L946.0,1113.3 L947.5,1113.6 L948.9,1113.9 L950.4,1114.2 L951.8,1114.5 L953.3,1114.8 L954.8,1115.1 L956.2,1115.4 L957.7,1115.7 L959.1,1116.0 L960.6,1116.4 L962.1,1116.7 L963.5,1117.0 L965.0,1117.4 L966.4,1117.7 L967.9,1118.0 L969.3,1118.4 L970.8,1118.7 L972.2,1119.1 L973.7,1119.4 L975.1,1119.8 L976.6,1120.2 L978.0,1120.5 L979.5,1120.9 L980.9,1121.3 L982.4,1121.6 L983.8,1122.0 L985.3,1122.4 L986.7,1122.8 L988.2,1123.2 L989.6,1123.6 L991.0,1124.0 L992.5,1124.4 L993.9,1124.8 L995.3,1125.2 L996.8,1125.6 L998.2,1126.1 L999.6,1126.5 L1001.1,1126.9 L1002.5,1127.3 L1003.9,1127.8 L1005.4,1128.2 L1006.8,1128.7 L1008.2,1129.1 L1009.6,1129.6 L1011.1,1130.0 L1012.5,1130.5 L1013.9,1131.0 L1015.3,1131.4 L1016.7,1131.9 L1018.2,1132.4 L1019.6,1132.9 L1021.0,1133.4 L1022.4,1133.9 L1023.8,1134.4 L1025.2,1134.9 L1026.6,1135.4 L1028.0,1135.9 L1029.5,1136.4 L1030.9,1136.9 L1032.3,1137.5 L1033.7,1138.0 L1035.1,1138.5 L1036.5,1139.1 L1037.9,1139.6 L1039.3,1140.1 L1040.7,1140.7 L1042.1,1141.2 L1043.5,1141.8 L1044.9,1142.3 L1046.3,1142.9 L1047.7,1143.4 L1049.1,1144.0 L1050.5,1144.6 L1051.9,1145.1 L1053.3,1145.7 L1054.7,1146.3 L1056.1,1146.8 L1057.4,1147.4 L1058.8,1148.0 L1060.2,1148.5 L1061.6,1149.1 L1063.0,1149.7 L1064.4,1150.3 L1065.8,1150.9 L1067.2,1151.4 L1068.6,1152.0 L1070.0,1152.6 L1071.4,1153.2 L1072.7,1153.8 L1074.1,1154.4 L1075.5,1154.9 L1076.9,1155.5 L1078.3,1156.1 L1079.7,1156.7 L1081.1,1157.3 L1082.5,1157.9 L1083.9,1158.5 L1085.2,1159.0 L1086.6,1159.6 L1088.0,1160.2 L1089.4,1160.8 L1090.8,1161.4 L1092.2,1162.0 L1093.6,1162.5 L1095.0,1163.1 L1096.4,1163.7 L1097.8,1164.3 L1099.1,1164.8 L1100.5,1165.4 L1101.9,1166.0 L1103.3,1166.6 L1104.7,1167.1 L1106.1,1167.7 L1107.5,1168.2 L1108.9,1168.8 L1110.3,1169.4 L1111.7,1169.9 L1113.1,1170.5 L1114.5,1171.0 L1115.9,1171.5 L1117.3,1172.1 L1118.7,1172.6 L1120.1,1173.1 L1121.5,1173.6 L1122.9,1174.2 L1124.3,1174.7 L1125.7,1175.2 L1127.1,1175.7 L1128.6,1176.2 L1130.0,1176.6 L1131.4,1177.1 L1132.8,1177.6 L1134.2,1178.0 L1135.7,1178.5 L1137.1,1178.9 L1138.5,1179.4 L1139.9,1179.8 L1141.4,1180.2 L1142.8,1180.6 L1144.3,1181.0 L1145.7,1181.4 L1147.1,1181.8 L1148.6,1182.1 L1150.0,1182.5 L1151.5,1182.8 L1152.9,1183.2 L1154.4,1183.5 L1155.9,1183.8 L1157.3,1184.1 L1158.8,1184.4 L1160.3,1184.7 L1161.7,1184.9 L1163.2,1185.2 L1164.7,1185.4 L1166.2,1185.6 L1167.6,1185.9 L1169.1,1186.0 L1170.6,1186.2 L1172.1,1186.4 L1173.6,1186.5 L1175.1,1186.7 L1176.6,1186.8 L1178.1,1186.9 L1179.6,1187.0 L1181.1,1187.1 L1182.6,1187.1 L1184.1,1187.2 L1185.5,1187.2 L1187.0,1187.2 L1188.5,1187.2 L1190.0,1187.1 L1191.5,1187.1 L1193.0,1187.0 L1194.5,1186.9 L1196.0,1186.8 L1197.5,1186.7 L1199.0,1186.5 L1200.5,1186.3 L1202.0,1186.1 L1203.5,1185.9 L1204.9,1185.7 L1206.4,1185.5 L1207.9,1185.2 L1209.4,1184.9 L1210.8,1184.7 L1212.3,1184.4 L1213.8,1184.0 L1215.2,1183.7 L1216.7,1183.4 L1218.1,1183.0 L1219.6,1182.6 L1221.0,1182.3 L1222.5,1181.9 L1223.9,1181.5 L1225.4,1181.1 L1226.8,1180.6 L1228.2,1180.2 L1229.6,1179.8 L1231.1,1179.3 L1232.5,1178.8 L1233.9,1178.4 L1235.3,1177.9 L1236.7,1177.4 L1238.1,1176.9 L1239.5,1176.4 L1240.9,1175.8 L1242.3,1175.3 L1243.7,1174.8 L1245.1,1174.2 L1246.5,1173.7 L1247.8,1173.1 L1249.2,1172.5 L1250.6,1172.0 L1252.0,1171.4 L1253.3,1170.8 L1254.7,1170.2 L1256.1,1169.6 L1257.4,1168.9 L1258.8,1168.3 L1260.1,1167.7 L1261.5,1167.0 L1262.9,1166.4 L1264.2,1165.8 L1265.6,1165.1 L1266.9,1164.4 L1268.2,1163.8 L1269.6,1163.1 L1270.9,1162.4 L1272.3,1161.7 L1273.6,1161.1 L1274.9,1160.4 L1276.3,1159.7 L1277.6,1159.0 L1278.9,1158.3 L1280.3,1157.6 L1281.6,1156.9 L1282.9,1156.1 L1284.2,1155.4 L1285.6,1154.7 L1286.9,1154.0 L1288.2,1153.3 L1289.5,1152.5 L1290.8,1151.8 L1292.2,1151.1 L1293.5,1150.3 L1294.8,1149.6 L1296.1,1148.8 L1297.4,1148.1 L1298.7,1147.4 L1300.0,1146.6 L1301.4,1145.9 L1302.7,1145.1 L1304.0,1144.4 L1305.3,1143.6 L1306.6,1142.9 L1307.9,1142.2 L1309.2,1141.4 L1310.5,1140.7 L1311.8,1139.9 L1313.1,1139.2 L1314.4,1138.4 L1315.8,1137.7 L1317.1,1136.9 L1318.4,1136.2 L1319.7,1135.4 L1321.0,1134.7 L1322.3,1133.9 L1323.6,1133.2 L1324.9,1132.4 L1326.2,1131.7 L1327.5,1131.0 L1328.8,1130.2 L1330.1,1129.5 L1331.4,1128.7 L1332.7,1128.0 L1334.1,1127.2 L1335.4,1126.5 L1336.7,1125.8 L1338.0,1125.0 L1339.3,1124.3 L1340.6,1123.6 L1341.9,1122.8 L1343.2,1122.1 L1344.5,1121.4 L1345.8,1120.7 L1347.2,1119.9 L1348.5,1119.2 L1349.8,1118.5 L1351.1,1117.8 L1352.4,1117.1 L1353.7,1116.4 L1355.1,1115.6 L1356.4,1114.9 L1357.7,1114.2 L1359.0,1113.5 L1360.3,1112.8 L1361.7,1112.1 L1363.0,1111.4 L1364.3,1110.7 L1365.6,1110.1 L1367.0,1109.4 L1368.3,1108.7 L1369.6,1108.0 L1371.0,1107.3 L1372.3,1106.7 L1373.6,1106.0 L1375.0,1105.3 L1376.3,1104.7 L1377.6,1104.0 L1379.0,1103.3 L1380.3,1102.7 L1381.7,1102.0 L1383.0,1101.4 L1384.4,1100.8 L1385.7,1100.1 L1387.1,1099.5 L1388.4,1098.9 L1389.8,1098.2 L1391.1,1097.6 L1392.5,1097.0 L1393.9,1096.4 L1395.2,1095.8 L1396.6,1095.2 L1398.0,1094.6 L1399.3,1094.0 L1400.7,1093.4 L1402.1,1092.9 L1403.5,1092.3 L1404.9,1091.7 L1406.2,1091.2 L1407.6,1090.6 L1409.0,1090.0 L1410.4,1089.5 L1411.8,1089.0 L1413.2,1088.4 L1414.6,1087.9 L1416.0,1087.4 L1417.4,1086.8 L1418.8,1086.3 L1420.2,1085.8 L1421.6,1085.3 L1423.0,1084.8 L1424.5,1084.3 L1425.9,1083.9 L1427.3,1083.4 L1428.7,1082.9 L1430.2,1082.5 L1431.6,1082.0 L1433.0,1081.6 L1434.5,1081.1 L1435.9,1080.7 L1437.4,1080.3 L1438.8,1079.8 L1440.3,1079.4 L1441.7,1079.0 L1443.2,1078.6 L1444.7,1078.2 L1446.1,1077.8 L1447.6,1077.5 L1449.1,1077.1 L1450.5,1076.7 L1452.0,1076.4" fill="none" stroke="#ff0000" stroke-width="3" stroke-linejoin="round" stroke-linecap="round" shape-rendering="crispEdges"/>
<path d="M296.4,1192.9 L297.9,1192.8 L299.3,1192.7 L300.8,1192.6 L302.3,1192.5 L303.8,1192.5 L305.3,1192.4 L306.8,1192.3 L308.3,1192.2 L309.7,1192.1 L311.2,1192.0 L312.7,1192.0 L314.2,1191.9 L315.7,1191.8 L317.2,1191.7 L318.7,1191.6 L320.1,1191.5 L321.6,1191.5 L323.1,1191.4 L324.6,1191.3 L326.1,1191.2 L327.6,1191.1 L329.1,1191.0 L330.6,1191.0 L332.1,1190.9 L333.5,1190.8 L335.0,1190.7 L336.5,1190.6 L338.0,1190.6 L339.5,1190.5 L341.0,1190.4 L342.5,1190.3 L344.0,1190.3 L345.5,1190.2 L347.0,1190.1 L348.5,1190.0 L349.9,1190.0 L351.4,1189.9 L352.9,1189.8 L354.4,1189.7 L355.9,1189.7 L357.4,1189.6 L358.9,1189.5 L360.4,1189.4 L361.9,1189.4 L363.4,1189.3 L364.9,1189.2 L366.4,1189.1 L367.9,1189.1 L369.4,1189.0 L370.9,1188.9 L372.3,1188.9 L373.8,1188.8 L375.3,1188.7 L376.8,1188.7 L378.3,1188.6 L379.8,1188.5 L381.3,1188.5 L382.8,1188.4 L384.3,1188.3 L385.8,1188.3 L387.3,1188.2 L388.8,1188.1 L390.3,1188.1 L391.8,1188.0 L393.3,1188.0 L394.8,1187.9 L396.3,1187.8 L397.8,1187.8 L399.3,1187.7 L400.8,1187.7 L402.3,1187.6 L403.8,1187.6 L405.3,1187.5 L406.8,1187.4 L408.3,1187.4 L409.8,1187.3 L411.3,1187.3 L412.8,1187.2 L414.3,1187.2 L415.8,1187.1 L417.3,1187.1 L418.8,1187.0 L420.3,1187.0 L421.8,1186.9 L423.3,1186.9 L424.8,1186.8 L426.3,1186.8 L427.8,1186.7 L429.3,1186.7 L430.8,1186.6 L432.3,1186.6 L433.8,1186.6 L435.3,1186.5 L436.8,1186.5 L438.3,1186.4 L439.8,1186.4 L441.3,1186.4 L442.8,1186.3 L444.3,1186.3 L445.8,1186.2 L447.3,1186.2 L448.8,1186.2 L450.3,1186.1 L451.8,1186.1 L453.3,1186.1 L454.8,1186.0 L456.3,1186.0 L457.8,1186.0 L459.3,1185.9 L460.8,1185.9 L462.3,1185.9 L463.8,1185.9 L465.3,1185.8 L466.8,1185.8 L468.3,1185.8 L469.8,1185.8 L471.3,1185.7 L472.8,1185.7 L474.3,1185.7 L475.8,1185.7 L477.3,1185.7 L478.8,1185.6 L480.3,1185.6 L481.8,1185.6 L483.3,1185.6 L484.8,1185.6 L486.3,1185.6 L487.8,1185.5 L489.3,1185.5 L490.8,1185.5 L492.4,1185.5 L493.9,1185.5 L495.4,1185.5 L496.9,1185.5 L498.4,1185.5 L499.9,1185.5 L501.4,1185.5 L502.9,1185.5 L504.4,1185.5 L505.9,1185.5 L507.4,1185.5 L508.9,1185.5 L510.4,1185.5 L511.9,1185.5 L513.4,1185.5 L514.9,1185.5 L516.4,1185.5 L517.9,1185.5 L519.4,1185.5 L520.9,1185.5 L522.4,1185.5 L523.9,1185.6 L525.4,1185.6 L526.9,1185.6 L528.4,1185.6 L529.9,1185.6 L531.4,1185.6 L532.9,1185.7 L534.4,1185.7 L535.9,1185.7 L537.4,1185.7 L538.9,1185.7 L540.4,1185.8 L541.9,1185.8 L543.4,1185.8 L544.9,1185.8 L546.4,1185.9 L548.0,1185.9 L549.5,1185.9 L551.0,1186.0 L552.5,1186.0 L554.0,1186.0 L555.5,1186.1 L557.0,1186.1 L558.5,1186.2 L560.0,1186.2 L561.5,1186.2 L563.0,1186.3 L564.5,1186.3 L566.0,1186.4 L567.5,1186.4 L569.0,1186.5 L570.5,1186.5 L572.0,1186.6 L573.5,1186.6 L575.0,1186.7 L576.5,1186.7 L578.0,1186.8 L579.5,1186.8 L581.0,1186.9 L582.5,1187.0 L584.0,1187.0 L585.5,1187.1 L587.0,1187.2 L588.5,1187.2 L590.0,1187.3 L591.5,1187.4 L593.0,1187.4 L594.5,1187.5 L596.0,1187.6 L597.5,1187.6 L599.0,1187.7 L600.5,1187.8 L602.0,1187.9 L603.5,1188.0 L605.0,1188.0 L606.5,1188.1 L608.0,1188.2 L609.5,1188.3 L611.0,1188.4 L612.5,1188.5 L614.0,1188.5 L615.4,1188.6 L616.9,1188.7 L618.4,1188.8 L619.9,1188.9 L621.4,1189.0 L622.9,1189.1 L624.4,1189.2 L625.9,1189.3 L627.4,1189.4 L628.9,1189.5 L630.4,1189.6 L631.9,1189.7 L633.4,1189.8 L634.9,1190.0 L636.4,1190.1 L637.9,1190.2 L639.4,1190.3 L640.9,1190.4 L642.4,1190.5 L643.9,1190.7 L645.4,1190.8 L646.8,1190.9 L648.3,1191.0 L649.8,1191.1 L651.3,1191.3 L652.8,1191.4 L654.3,1191.5 L655.8,1191.7 L657.3,1191.8 L658.8,1191.9 L660.3,1192.1 L661.8,1192.2 L663.3,1192.4 L664.8,1192.5 L666.2,1192.6 L667.7,1192.8 L669.2,1192.9 L670.7,1193.1 L672.2,1193.2 L673.7,1193.4 L675.2,1193.5 L676.7,1193.7 L678.2,1193.9 L679.7,1194.0 L681.1,1194.2 L682.6,1194.3 L684.1,1194.5 L685.6,1194.7 L687.1,1194.8 L688.6,1195.0 L690.1,1195.2 L691.6,1195.4 L693.0,1195.5 L694.5,1195.7 L696.0,1195.9 L697.5,1196.1 L699.0,1196.3 L700.5,1196.4 L701.9,1196.6 L703.4,1196.8 L704.9,1197.0 L706.4,1197.2 L707.9,1197.4 L709.4,1197.6 L710.9,1197.8 L712.3,1198.0 L713.8,1198.2 L715.3,1198.4 L716.8,1198.6 L718.3,1198.8 L719.7,1199.0 L721.2,1199.2 L722.7,1199.4 L724.2,1199.6 L725.7,1199.9 L727.1,1200.1 L728.6,1200.3 L730.1,1200.5 L731.6,1200.7 L733.1,1201.0 L734.5,1201.2 L736.0,1201.4 L737.5,1201.6 L739.0,1201.9 L740.4,1202.1 L741.9,1202.3 L743.4,1202.6 L744.9,1202.8 L746.4,1203.1 L747.8,1203.3 L749.3,1203.6 L750.8,1203.8 L752.3,1204.1 L753.7,1204.3 L755.2,1204.6 L756.7,1204.8 L758.1,1205.1 L759.6,1205.3 L761.1,1205.6 L762.6,1205.9 L764.0,1206.1 L765.5,1206.4 L767.0,1206.6 L768.5,1206.9 L769.9,1207.2 L771.4,1207.5 L772.9,1207.7 L774.3,1208.0 L775.8,1208.3 L777.3,1208.6 L778.7,1208.9 L780.2,1209.1 L781.7,1209.4 L783.1,1209.7 L784.6,1210.0 L786.1,1210.3 L787.5,1210.6 L789.0,1210.9 L790.5,1211.2 L791.9,1211.5 L793.4,1211.8 L794.9,1212.1 L796.3,1212.4 L797.8,1212.7 L799.3,1213.0 L800.7,1213.3 L802.2,1213.6 L803.7,1213.9 L805.1,1214.2 L806.6,1214.6 L808.0,1214.9 L809.5,1215.2 L811.0,1215.5 L812.4,1215.8 L813.9,1216.2 L815.3,1216.5 L816.8,1216.8 L818.3,1217.1 L819.7,1217.5 L821.2,1217.8 L822.6,1218.1 L824.1,1218.5 L825.6,1218.8 L827.0,1219.2 L828.5,1219.5 L829.9,1219.8 L831.4,1220.2 L832.8,1220.5 L834.3,1220.9 L835.8,1221.2 L837.2,1221.6 L838.7,1221.9 L840.1,1222.3 L841.6,1222.6 L843.0,1223.0 L844.5,1223.4 L845.9,1223.7 L847.4,1224.1 L848.8,1224.5 L850.3,1224.8 L851.7,1225.2 L853.2,1225.6 L854.7,1225.9 L856.1,1226.3 L857.6,1226.7 L859.0,1227.1 L860.5,1227.4 L861.9,1227.8 L863.3,1228.2 L864.8,1228.6 L866.2,1229.0 L867.7,1229.4 L869.1,1229.7 L870.6,1230.1 L872.0,1230.5 L873.5,1230.9 L874.9,1231.3 L876.4,1231.7 L877.8,1232.1 L879.3,1232.5 L880.7,1232.9 L882.2,1233.3 L883.6,1233.7 L885.0,1234.1 L886.5,1234.5 L887.9,1234.9 L889.4,1235.4 L890.8,1235.8 L892.3,1236.2 L893.7,1236.6 L895.1,1237.0 L896.6,1237.4 L898.0,1237.9 L899.5,1238.3 L900.9,1238.7 L902.3,1239.1 L903.8,1239.6 L905.2,1240.0 L906.6,1240.4 L908.1,1240.8 L909.5,1241.3 L911.0,1241.7 L912.4,1242.2 L913.8,1242.6 L915.3,1243.0 L916.7,1243.5 L918.1,1243.9 L919.6,1244.4 L921.0,1244.8 L922.4,1245.3 L923.9,1245.7 L925.3,1246.2 L926.7,1246.6 L928.2,1247.1 L929.6,1247.5 L931.0,1248.0 L932.5,1248.4 L933.9,1248.9 L935.3,1249.4 L936.8,1249.8 L938.2,1250.3 L939.6,1250.7 L941.0,1251.2 L942.5,1251.7 L943.9,1252.2 L945.3,1252.6 L946.8,1253.1 L948.2,1253.6 L949.6,1254.1 L951.0,1254.5 L952.5,1255.0 L953.9,1255.5 L955.3,1256.0 L956.7,1256.5 L958.2,1257.0 L959.6,1257.4 L961.0,1257.9 L962.4,1258.4 L963.9,1258.9 L965.3,1259.4 L966.7,1259.9 L968.1,1260.4 L969.5,1260.9 L971.0,1261.4 L972.4,1261.9 L973.8,1262.4 L975.2,1262.9 L976.6,1263.4 L978.1,1263.9 L979.5,1264.4 L980.9,1264.9 L982.3,1265.4 L983.7,1266.0 L985.1,1266.5 L986.6,1267.0 L988.0,1267.5 L989.4,1268.0 L990.8,1268.5 L992.2,1269.1 L993.6,1269.6 L995.1,1270.1 L996.5,1270.6 L997.9,1271.1 L999.3,1271.7 L1000.7,1272.2 L1002.1,1272.7 L1003.5,1273.2 L1004.9,1273.8 L1006.4,1274.3 L1007.8,1274.8 L1009.2,1275.3 L1010.6,1275.8 L1012.0,1276.4 L1013.4,1276.9 L1014.8,1277.4 L1016.3,1277.9 L1017.7,1278.4 L1019.1,1279.0 L1020.5,1279.5 L1021.9,1280.0 L1023.3,1280.5 L1024.7,1281.0 L1026.2,1281.5 L1027.6,1282.0 L1029.0,1282.5 L1030.4,1283.0 L1031.8,1283.5 L1033.2,1284.0 L1034.6,1284.5 L1036.1,1285.0 L1037.5,1285.5 L1038.9,1286.0 L1040.3,1286.5 L1041.7,1287.0 L1043.2,1287.5 L1044.6,1288.0 L1046.0,1288.4 L1047.4,1288.9 L1048.8,1289.4 L1050.3,1289.8 L1051.7,1290.3 L1053.1,1290.8 L1054.5,1291.2 L1056.0,1291.7 L1057.4,1292.1 L1058.8,1292.6 L1060.2,1293.0 L1061.7,1293.4 L1063.1,1293.9 L1064.5,1294.3 L1066.0,1294.7 L1067.4,1295.1 L1068.8,1295.6 L1070.3,1296.0 L1071.7,1296.4 L1073.1,1296.8 L1074.6,1297.2 L1076.0,1297.6 L1077.4,1297.9 L1078.9,1298.3 L1080.3,1298.7 L1081.8,1299.1 L1083.2,1299.4 L1084.7,1299.8 L1086.1,1300.1 L1087.6,1300.5 L1089.0,1300.8 L1090.5,1301.1 L1091.9,1301.5 L1093.4,1301.8 L1094.8,1302.1 L1096.3,1302.4 L1097.7,1302.7 L1099.2,1303.0 L1100.6,1303.3 L1102.1,1303.6 L1103.6,1303.8 L1105.0,1304.1 L1106.5,1304.3 L1108.0,1304.6 L1109.4,1304.8 L1110.9,1305.1 L1112.4,1305.3 L1113.8,1305.5 L1115.3,1305.7 L1116.8,1305.9 L1118.3,1306.1 L1119.7,1306.3 L1121.2,1306.5 L1122.7,1306.6 L1124.2,1306.8 L1125.7,1307.0 L1127.2,1307.1 L1128.7,1307.2 L1130.1,1307.4 L1131.6,1307.5 L1133.1,1307.6 L1134.6,1307.7 L1136.1,1307.8 L1137.6,1307.9 L1139.1,1308.0 L1140.6,1308.0 L1142.1,1308.1 L1143.6,1308.1 L1145.1,1308.2 L1146.6,1308.2 L1148.1,1308.3 L1149.6,1308.3 L1151.1,1308.3 L1152.6,1308.3 L1154.1,1308.3 L1155.6,1308.3 L1157.1,1308.3 L1158.6,1308.3 L1160.1,1308.2 L1161.6,1308.2 L1163.1,1308.2 L1164.6,1308.1 L1166.1,1308.1 L1167.6,1308.0 L1169.1,1307.9 L1170.6,1307.8 L1172.1,1307.7 L1173.6,1307.7 L1175.1,1307.5 L1176.6,1307.4 L1178.1,1307.3 L1179.6,1307.2 L1181.1,1307.1 L1182.6,1306.9 L1184.1,1306.8 L1185.6,1306.6 L1187.1,1306.5 L1188.6,1306.3 L1190.1,1306.1 L1191.6,1306.0 L1193.1,1305.8 L1194.6,1305.6 L1196.1,1305.4 L1197.5,1305.2 L1199.0,1304.9 L1200.5,1304.7 L1202.0,1304.5 L1203.5,1304.3 L1204.9,1304.0 L1206.4,1303.8 L1207.9,1303.5 L1209.4,1303.3 L1210.8,1303.0 L1212.3,1302.7 L1213.8,1302.4 L1215.2,1302.2 L1216.7,1301.9 L1218.2,1301.6 L1219.6,1301.3 L1221.1,1301.0 L1222.6,1300.7 L1224.0,1300.3 L1225.5,1300.0 L1226.9,1299.7 L1228.4,1299.4 L1229.8,1299.0 L1231.3,1298.7 L1232.7,1298.3 L1234.2,1298.0 L1235.6,1297.6 L1237.1,1297.2 L1238.5,1296.9 L1240.0,1296.5 L1241.4,1296.1 L1242.9,1295.7 L1244.3,1295.3 L1245.8,1294.9 L1247.2,1294.5 L1248.6,1294.1 L1250.1,1293.7 L1251.5,1293.3 L1253.0,1292.9 L1254.4,1292.5 L1255.8,1292.1 L1257.3,1291.6 L1258.7,1291.2 L1260.1,1290.8 L1261.6,1290.3 L1263.0,1289.9 L1264.4,1289.5 L1265.9,1289.0 L1267.3,1288.6 L1268.7,1288.1 L1270.1,1287.6 L1271.6,1287.2 L1273.0,1286.7 L1274.4,1286.2 L1275.8,1285.8 L1277.3,1285.3 L1278.7,1284.8 L1280.1,1284.3 L1281.5,1283.9 L1283.0,1283.4 L1284.4,1282.9 L1285.8,1282.4 L1287.2,1281.9 L1288.6,1281.4 L1290.1,1280.9 L1291.5,1280.4 L1292.9,1279.9 L1294.3,1279.4 L1295.7,1278.9 L1297.1,1278.4 L1298.6,1277.9 L1300.0,1277.4 L1301.4,1276.8 L1302.8,1276.3 L1304.2,1275.8 L1305.6,1275.3 L1307.0,1274.8 L1308.5,1274.3 L1309.9,1273.7 L1311.3,1273.2 L1312.7,1272.7 L1314.1,1272.2 L1315.5,1271.6 L1316.9,1271.1 L1318.3,1270.6 L1319.7,1270.0 L1321.2,1269.5 L1322.6,1269.0 L1324.0,1268.4 L1325.4,1267.9 L1326.8,1267.4 L1328.2,1266.8 L1329.6,1266.3 L1331.0,1265.8 L1332.4,1265.2 L1333.8,1264.7 L1335.3,1264.1 L1336.7,1263.6 L1338.1,1263.1 L1339.5,1262.5 L1340.9,1262.0 L1342.3,1261.5 L1343.7,1260.9 L1345.1,1260.4 L1346.5,1259.9 L1347.9,1259.3 L1349.3,1258.8 L1350.7,1258.3 L1352.2,1257.7 L1353.6,1257.2 L1355.0,1256.7 L1356.4,1256.1 L1357.8,1255.6 L1359.2,1255.1 L1360.6,1254.6 L1362.0,1254.0 L1363.4,1253.5 L1364.8,1253.0 L1366.3,1252.5 L1367.7,1251.9 L1369.1,1251.4 L1370.5,1250.9 L1371.9,1250.4 L1373.3,1249.9 L1374.7,1249.4 L1376.1,1248.9 L1377.6,1248.4 L1379.0,1247.8 L1380.4,1247.3 L1381.8,1246.8 L1383.2,1246.3 L1384.6,1245.8 L1386.0,1245.4 L1387.5,1244.9 L1388.9,1244.4 L1390.3,1243.9 L1391.7,1243.4 L1393.1,1242.9 L1394.5,1242.4 L1396.0,1242.0 L1397.4,1241.5 L1398.8,1241.0 L1400.2,1240.6 L1401.7,1240.1 L1403.1,1239.6 L1404.5,1239.2 L1405.9,1238.7 L1407.3,1238.3 L1408.8,1237.8 L1410.2,1237.4 L1411.6,1236.9 L1413.1,1236.5 L1414.5,1236.1 L1415.9,1235.6 L1417.3,1235.2 L1418.8,1234.8 L1420.2,1234.4 L1421.6,1234.0 L1423.1,1233.6 L1424.5,1233.2 L1425.9,1232.8 L1427.4,1232.4 L1428.8,1232.0 L1430.2,1231.6 L1431.7,1231.2 L1433.1,1230.8 L1434.6,1230.5 L1436.0,1230.1 L1437.5,1229.7 L1438.9,1229.4 L1440.3,1229.0 L1441.8,1228.7 L1443.2,1228.3 L1444.7,1228.0 L1446.1,1227.7 L1447.6,1227.4 L1449.0,1227.0 L1450.5,1226.7 L1451.9,1226.4" fill="none" stroke="#000" stroke-width="3" stroke-linejoin="round" stroke-linecap="round" shape-rendering="crispEdges"/>
<path d="M300.6,2051.4 L302.0,2051.0 L303.5,2050.7 L304.9,2050.4 L306.3,2050.0 L307.8,2049.7 L309.2,2049.3 L310.7,2049.0 L312.1,2048.6 L313.6,2048.3 L315.0,2047.9 L316.5,2047.6 L317.9,2047.3 L319.4,2046.9 L320.8,2046.6 L322.3,2046.2 L323.7,2045.9 L325.2,2045.5 L326.6,2045.2 L328.1,2044.8 L329.5,2044.5 L331.0,2044.2 L332.4,2043.8 L333.9,2043.5 L335.3,2043.1 L336.8,2042.8 L338.3,2042.5 L339.7,2042.1 L341.2,2041.8 L342.6,2041.5 L344.1,2041.1 L345.6,2040.8 L347.0,2040.5 L348.5,2040.1 L349.9,2039.8 L351.4,2039.5 L352.9,2039.2 L354.3,2038.8 L355.8,2038.5 L357.3,2038.2 L358.7,2037.9 L360.2,2037.6 L361.7,2037.2 L363.1,2036.9 L364.6,2036.6 L366.1,2036.3 L367.6,2036.0 L369.0,2035.7 L370.5,2035.4 L372.0,2035.1 L373.4,2034.8 L374.9,2034.5 L376.4,2034.2 L377.9,2033.9 L379.3,2033.6 L380.8,2033.3 L382.3,2033.1 L383.8,2032.8 L385.2,2032.5 L386.7,2032.2 L388.2,2031.9 L389.7,2031.7 L391.2,2031.4 L392.6,2031.1 L394.1,2030.9 L395.6,2030.6 L397.1,2030.4 L398.6,2030.1 L400.0,2029.9 L401.5,2029.6 L403.0,2029.4 L404.5,2029.2 L406.0,2028.9 L407.5,2028.7 L408.9,2028.5 L410.4,2028.2 L411.9,2028.0 L413.4,2027.8 L414.9,2027.6 L416.4,2027.4 L417.9,2027.2 L419.4,2027.0 L420.9,2026.8 L422.3,2026.6 L423.8,2026.4 L425.3,2026.2 L426.8,2026.0 L428.3,2025.9 L429.8,2025.7 L431.3,2025.5 L432.8,2025.4 L434.3,2025.2 L435.8,2025.1 L437.3,2024.9 L438.8,2024.8 L440.3,2024.6 L441.8,2024.5 L443.3,2024.4 L444.7,2024.3 L446.2,2024.1 L447.7,2024.0 L449.2,2023.9 L450.7,2023.8 L452.2,2023.7 L453.7,2023.6 L455.2,2023.5 L456.7,2023.5 L458.2,2023.4 L459.7,2023.3 L461.2,2023.2 L462.7,2023.2 L464.2,2023.1 L465.7,2023.1 L467.3,2023.0 L468.8,2023.0 L470.3,2023.0 L471.8,2022.9 L473.3,2022.9 L474.8,2022.9 L476.3,2022.9 L477.8,2022.9 L479.3,2022.9 L480.8,2022.9 L482.3,2022.9 L483.8,2022.9 L485.3,2023.0 L486.8,2023.0 L488.3,2023.0 L489.8,2023.0 L491.3,2023.1 L492.8,2023.1 L494.3,2023.2 L495.8,2023.3 L497.3,2023.3 L498.8,2023.4 L500.3,2023.5 L501.8,2023.5 L503.3,2023.6 L504.8,2023.7 L506.3,2023.8 L507.8,2023.9 L509.3,2024.0 L510.8,2024.2 L512.3,2024.3 L513.8,2024.4 L515.3,2024.5 L516.8,2024.7 L518.3,2024.8 L519.8,2024.9 L521.3,2025.1 L522.8,2025.3 L524.3,2025.4 L525.8,2025.6 L527.3,2025.8 L528.8,2025.9 L530.2,2026.1 L531.7,2026.3 L533.2,2026.5 L534.7,2026.7 L536.2,2026.9 L537.7,2027.1 L539.2,2027.3 L540.6,2027.6 L542.1,2027.8 L543.6,2028.0 L545.1,2028.3 L546.6,2028.5 L548.0,2028.7 L549.5,2029.0 L551.0,2029.3 L552.5,2029.5 L553.9,2029.8 L555.4,2030.1 L556.9,2030.3 L558.4,2030.6 L559.8,2030.9 L561.3,2031.2 L562.8,2031.5 L564.2,2031.8 L565.7,2032.1 L567.1,2032.5 L568.6,2032.8 L570.1,2033.1 L571.5,2033.4 L573.0,2033.8 L574.4,2034.1 L575.9,2034.5 L577.3,2034.8 L578.8,2035.2 L580.2,2035.6 L581.7,2035.9 L583.1,2036.3 L584.5,2036.7 L586.0,2037.1 L587.4,2037.5 L588.9,2037.9 L590.3,2038.3 L591.7,2038.7 L593.2,2039.1 L594.6,2039.5 L596.0,2039.9 L597.4,2040.3 L598.9,2040.8 L600.3,2041.2 L601.7,2041.7 L603.1,2042.1 L604.5,2042.6 L606.0,2043.0 L607.4,2043.5 L608.8,2043.9 L610.2,2044.4 L611.6,2044.9 L613.0,2045.4 L614.4,2045.8 L615.8,2046.3 L617.2,2046.8 L618.6,2047.3 L620.0,2047.8 L621.4,2048.3 L622.8,2048.8 L624.2,2049.4 L625.6,2049.9 L627.0,2050.4 L628.4,2050.9 L629.8,2051.5 L631.2,2052.0 L632.6,2052.5 L634.0,2053.1 L635.4,2053.6 L636.7,2054.2 L638.1,2054.7 L639.5,2055.3 L640.9,2055.9 L642.3,2056.4 L643.6,2057.0 L645.0,2057.6 L646.4,2058.2 L647.8,2058.8 L649.1,2059.3 L650.5,2059.9 L651.9,2060.5 L653.2,2061.1 L654.6,2061.7 L656.0,2062.3 L657.3,2063.0 L658.7,2063.6 L660.1,2064.2 L661.4,2064.8 L662.8,2065.4 L664.1,2066.1 L665.5,2066.7 L666.8,2067.3 L668.2,2068.0 L669.6,2068.6 L670.9,2069.2 L672.3,2069.9 L673.6,2070.5 L674.9,2071.2 L676.3,2071.9 L677.6,2072.5 L679.0,2073.2 L680.3,2073.8 L681.7,2074.5 L683.0,2075.2 L684.3,2075.9 L685.7,2076.5 L687.0,2077.2 L688.4,2077.9 L689.7,2078.6 L691.0,2079.3 L692.4,2080.0 L693.7,2080.7 L695.0,2081.4 L696.3,2082.1 L697.7,2082.8 L699.0,2083.5 L700.3,2084.2 L701.6,2084.9 L703.0,2085.6 L704.3,2086.3 L705.6,2087.0 L706.9,2087.8 L708.3,2088.5 L709.6,2089.2 L710.9,2089.9 L712.2,2090.7 L713.5,2091.4 L714.8,2092.1 L716.1,2092.9 L717.5,2093.6 L718.8,2094.3 L720.1,2095.1 L721.4,2095.8 L722.7,2096.6 L724.0,2097.3 L725.3,2098.1 L726.6,2098.8 L727.9,2099.6 L729.2,2100.3 L730.5,2101.1 L731.8,2101.9 L733.1,2102.6 L734.4,2103.4 L735.7,2104.1 L737.0,2104.9 L738.3,2105.7 L739.6,2106.4 L740.9,2107.2 L742.2,2108.0 L743.5,2108.8 L744.8,2109.5 L746.1,2110.3 L747.4,2111.1 L748.7,2111.9 L750.0,2112.7 L751.3,2113.4 L752.6,2114.2 L753.8,2115.0 L755.1,2115.8 L756.4,2116.6 L757.7,2117.4 L759.0,2118.2 L760.3,2118.9 L761.6,2119.7 L762.8,2120.5 L764.1,2121.3 L765.4,2122.1 L766.7,2122.9 L768.0,2123.7 L769.3,2124.5 L770.5,2125.3 L771.8,2126.1 L773.1,2126.9 L774.4,2127.7 L775.6,2128.5 L776.9,2129.3 L778.2,2130.1 L779.5,2130.9 L780.7,2131.7 L782.0,2132.5 L783.3,2133.3 L784.6,2134.1 L785.8,2134.9 L787.1,2135.7 L788.4,2136.5 L789.7,2137.4 L790.9,2138.2 L792.2,2139.0 L793.5,2139.8 L794.7,2140.6 L796.0,2141.4 L797.3,2142.2 L798.5,2143.0 L799.8,2143.8 L801.1,2144.6 L802.3,2145.4 L803.6,2146.2 L804.9,2147.0 L806.1,2147.8 L807.4,2148.7 L808.6,2149.5 L809.9,2150.3 L811.2,2151.1 L812.4,2151.9 L813.7,2152.7 L815.0,2153.5 L816.2,2154.3 L817.5,2155.1 L818.7,2155.9 L820.0,2156.7 L821.3,2157.5 L822.5,2158.3 L823.8,2159.2 L825.0,2160.0 L826.3,2160.8 L827.6,2161.6 L828.8,2162.4 L830.1,2163.2 L831.3,2164.0 L832.6,2164.8 L833.8,2165.6 L835.1,2166.4 L836.4,2167.2 L837.6,2168.0 L838.9,2168.8 L840.1,2169.6 L841.4,2170.5 L842.6,2171.3 L843.9,2172.1 L845.2,2172.9 L846.4,2173.7 L847.7,2174.5 L848.9,2175.3 L850.2,2176.1 L851.4,2176.9 L852.7,2177.7 L853.9,2178.5 L855.2,2179.3 L856.5,2180.1 L857.7,2180.9 L859.0,2181.7 L860.2,2182.5 L861.5,2183.3 L862.7,2184.1 L864.0,2184.9 L865.2,2185.7 L866.5,2186.5 L867.7,2187.4 L869.0,2188.2 L870.3,2189.0 L871.5,2189.8 L872.8,2190.6 L874.0,2191.4 L875.3,2192.2 L876.5,2193.0 L877.8,2193.8 L879.1,2194.6 L880.3,2195.4 L881.6,2196.2 L882.8,2197.0 L884.1,2197.8 L885.3,2198.6 L886.6,2199.4 L887.9,2200.2 L889.1,2201.0 L890.4,2201.8 L891.6,2202.6 L892.9,2203.4 L894.1,2204.2 L895.4,2205.0 L896.7,2205.8 L897.9,2206.6 L899.2,2207.3 L900.4,2208.1 L901.7,2208.9 L903.0,2209.7 L904.2,2210.5 L905.5,2211.3 L906.8,2212.1 L908.0,2212.9 L909.3,2213.7 L910.5,2214.5 L911.8,2215.3 L913.1,2216.1 L914.3,2216.9 L915.6,2217.7 L916.9,2218.5 L918.1,2219.3 L919.4,2220.0 L920.7,2220.8 L921.9,2221.6 L923.2,2222.4 L924.5,2223.2 L925.7,2224.0 L927.0,2224.8 L928.3,2225.6 L929.6,2226.4 L930.8,2227.1 L932.1,2227.9 L933.4,2228.7 L934.6,2229.5 L935.9,2230.3 L937.2,2231.1 L938.5,2231.9 L939.7,2232.6 L941.0,2233.4 L942.3,2234.2 L943.6,2235.0 L944.9,2235.8 L946.1,2236.6 L947.4,2237.3 L948.7,2238.1 L950.0,2238.9 L951.3,2239.7 L952.5,2240.5 L953.8,2241.2 L955.1,2242.0 L956.4,2242.8 L957.7,2243.6 L959.0,2244.3 L960.3,2245.1 L961.5,2245.9 L962.8,2246.7 L964.1,2247.4 L965.4,2248.2 L966.7,2249.0 L968.0,2249.8 L969.3,2250.5 L970.6,2251.3 L971.9,2252.1 L973.2,2252.8 L974.5,2253.6 L975.8,2254.4 L977.1,2255.1 L978.4,2255.9 L979.7,2256.7 L981.0,2257.4 L982.3,2258.2 L983.6,2258.9 L984.9,2259.7 L986.2,2260.4 L987.5,2261.2 L988.8,2261.9 L990.1,2262.7 L991.4,2263.4 L992.7,2264.2 L994.0,2264.9 L995.3,2265.7 L996.7,2266.4 L998.0,2267.2 L999.3,2267.9 L1000.6,2268.6 L1001.9,2269.4 L1003.2,2270.1 L1004.5,2270.8 L1005.9,2271.6 L1007.2,2272.3 L1008.5,2273.0 L1009.8,2273.7 L1011.1,2274.5 L1012.5,2275.2 L1013.8,2275.9 L1015.1,2276.6 L1016.5,2277.3 L1017.8,2278.0 L1019.1,2278.7 L1020.4,2279.4 L1021.8,2280.1 L1023.1,2280.9 L1024.4,2281.5 L1025.8,2282.2 L1027.1,2282.9 L1028.4,2283.6 L1029.8,2284.3 L1031.1,2285.0 L1032.5,2285.7 L1033.8,2286.4 L1035.1,2287.0 L1036.5,2287.7 L1037.8,2288.4 L1039.2,2289.1 L1040.5,2289.7 L1041.9,2290.4 L1043.2,2291.0 L1044.6,2291.7 L1045.9,2292.4 L1047.3,2293.0 L1048.6,2293.7 L1050.0,2294.3 L1051.4,2294.9 L1052.7,2295.6 L1054.1,2296.2 L1055.4,2296.8 L1056.8,2297.5 L1058.2,2298.1 L1059.5,2298.7 L1060.9,2299.3 L1062.3,2300.0 L1063.6,2300.6 L1065.0,2301.2 L1066.4,2301.8 L1067.7,2302.4 L1069.1,2303.0 L1070.5,2303.6 L1071.9,2304.2 L1073.2,2304.7 L1074.6,2305.3 L1076.0,2305.9 L1077.4,2306.5 L1078.8,2307.0 L1080.1,2307.6 L1081.5,2308.2 L1082.9,2308.7 L1084.3,2309.3 L1085.7,2309.8 L1087.1,2310.4 L1088.5,2310.9 L1089.9,2311.5 L1091.3,2312.0 L1092.7,2312.5 L1094.1,2313.1 L1095.5,2313.6 L1096.9,2314.1 L1098.3,2314.6 L1099.7,2315.1 L1101.1,2315.6 L1102.5,2316.1 L1103.9,2316.6 L1105.3,2317.1 L1106.7,2317.6 L1108.1,2318.1 L1109.5,2318.5 L1110.9,2319.0 L1112.4,2319.5 L1113.8,2319.9 L1115.2,2320.4 L1116.6,2320.8 L1118.0,2321.3 L1119.5,2321.7 L1120.9,2322.2 L1122.3,2322.6 L1123.7,2323.0 L1125.2,2323.4 L1126.6,2323.9 L1128.0,2324.3 L1129.5,2324.7 L1130.9,2325.1 L1132.4,2325.5 L1133.8,2325.9 L1135.2,2326.3 L1136.7,2326.7 L1138.1,2327.0 L1139.6,2327.4 L1141.0,2327.8 L1142.5,2328.1 L1143.9,2328.5 L1145.3,2328.9 L1146.8,2329.2 L1148.3,2329.6 L1149.7,2329.9 L1151.2,2330.2 L1152.6,2330.6 L1154.1,2330.9 L1155.5,2331.2 L1157.0,2331.5 L1158.5,2331.9 L1159.9,2332.2 L1161.4,2332.5 L1162.8,2332.8 L1164.3,2333.1 L1165.8,2333.4 L1167.2,2333.6 L1168.7,2333.9 L1170.2,2334.2 L1171.6,2334.5 L1173.1,2334.8 L1174.6,2335.0 L1176.1,2335.3 L1177.5,2335.5 L1179.0,2335.8 L1180.5,2336.1 L1182.0,2336.3 L1183.4,2336.5 L1184.9,2336.8 L1186.4,2337.0 L1187.9,2337.2 L1189.4,2337.5 L1190.8,2337.7 L1192.3,2337.9 L1193.8,2338.1 L1195.3,2338.3 L1196.8,2338.5 L1198.3,2338.7 L1199.7,2338.9 L1201.2,2339.1 L1202.7,2339.3 L1204.2,2339.5 L1205.7,2339.7 L1207.2,2339.9 L1208.7,2340.1 L1210.2,2340.2 L1211.7,2340.4 L1213.2,2340.6 L1214.7,2340.7 L1216.1,2340.9 L1217.6,2341.0 L1219.1,2341.2 L1220.6,2341.3 L1222.1,2341.5 L1223.6,2341.6 L1225.1,2341.7 L1226.6,2341.9 L1228.1,2342.0 L1229.6,2342.1 L1231.1,2342.2 L1232.6,2342.4 L1234.1,2342.5 L1235.6,2342.6 L1237.1,2342.7 L1238.6,2342.8 L1240.1,2342.9 L1241.6,2343.0 L1243.1,2343.1 L1244.6,2343.2 L1246.1,2343.3 L1247.6,2343.3 L1249.1,2343.4 L1250.6,2343.5 L1252.1,2343.6 L1253.6,2343.7 L1255.2,2343.7 L1256.7,2343.8 L1258.2,2343.8 L1259.7,2343.9 L1261.2,2344.0 L1262.7,2344.0 L1264.2,2344.1 L1265.7,2344.1 L1267.2,2344.1 L1268.7,2344.2 L1270.2,2344.2 L1271.7,2344.3 L1273.2,2344.3 L1274.7,2344.3 L1276.2,2344.3 L1277.7,2344.4 L1279.2,2344.4 L1280.7,2344.4 L1282.3,2344.4 L1283.8,2344.4 L1285.3,2344.4 L1286.8,2344.4 L1288.3,2344.4 L1289.8,2344.4 L1291.3,2344.4 L1292.8,2344.4 L1294.3,2344.4 L1295.8,2344.4 L1297.3,2344.4 L1298.8,2344.4 L1300.3,2344.4 L1301.8,2344.3 L1303.3,2344.3 L1304.8,2344.3 L1306.3,2344.3 L1307.8,2344.2 L1309.3,2344.2 L1310.8,2344.2 L1312.3,2344.1 L1313.8,2344.1 L1315.3,2344.0 L1316.8,2344.0 L1318.3,2343.9 L1319.8,2343.9 L1321.3,2343.8 L1322.8,2343.8 L1324.3,2343.7 L1325.8,2343.7 L1327.3,2343.6 L1328.8,2343.5 L1330.3,2343.5 L1331.8,2343.4 L1333.3,2343.3 L1334.8,2343.3 L1336.3,2343.2 L1337.8,2343.1 L1339.3,2343.0 L1340.8,2342.9 L1342.3,2342.9 L1343.8,2342.8 L1345.3,2342.7 L1346.8,2342.6 L1348.3,2342.5 L1349.7,2342.4 L1351.2,2342.3 L1352.7,2342.2 L1354.2,2342.1 L1355.7,2342.0 L1357.2,2341.9 L1358.7,2341.8 L1360.2,2341.7 L1361.6,2341.6 L1363.1,2341.5 L1364.6,2341.4 L1366.1,2341.3 L1367.6,2341.1 L1369.0,2341.0 L1370.5,2340.9 L1372.0,2340.8 L1373.5,2340.7 L1375.0,2340.5 L1376.4,2340.4 L1377.9,2340.3 L1379.4,2340.2 L1380.8,2340.0 L1382.3,2339.9 L1383.8,2339.8" fill="none" stroke="#000" stroke-width="2.1"/>
<circle cx="273.5" cy="2058.4" r="27.5" fill="#000000"/><circle cx="265.5" cy="2051.5" r="14" fill="#737373"/><circle cx="265.5" cy="2051.5" r="9.6" fill="#ababab"/><circle cx="265.5" cy="2051.5" r="4.8" fill="#fafafa"/>
<circle cx="557" cy="1988" r="28" fill="#000000"/><circle cx="549" cy="1981" r="14" fill="#737373"/><circle cx="549" cy="1981" r="9.6" fill="#ababab"/><circle cx="549" cy="1981" r="4.8" fill="#fafafa"/>
<circle cx="557" cy="1996.3" r="27.5" fill="#ff0000"/><circle cx="550" cy="1989" r="14" fill="#ff7373"/><circle cx="550" cy="1989" r="9.6" fill="#ffabab"/><circle cx="550" cy="1989" r="4.8" fill="#fffafa"/>
<circle cx="842" cy="2170.4" r="28" fill="#00ff00"/><circle cx="835" cy="2163.5" r="14" fill="#73ff73"/><circle cx="835" cy="2163.5" r="9.6" fill="#abffab"/><circle cx="835" cy="2163.5" r="4.8" fill="#fafffa"/>
<circle cx="1127" cy="2358.5" r="27.7" fill="#0000ff"/><circle cx="1119.5" cy="2351.7" r="14" fill="#7373ff"/><circle cx="1119.5" cy="2351.7" r="9.6" fill="#ababff"/><circle cx="1119.5" cy="2351.7" r="4.8" fill="#fafaff"/>
<circle cx="1411" cy="2339" r="28" fill="#000000"/><circle cx="1403" cy="2332" r="14" fill="#737373"/><circle cx="1403" cy="2332" r="9.6" fill="#ababab"/><circle cx="1403" cy="2332" r="4.8" fill="#fafafa"/>
<circle cx="1411" cy="2345.3" r="27.5" fill="#00ffff"/><circle cx="1404" cy="2338.4" r="14" fill="#73ffff"/><circle cx="1404" cy="2338.4" r="9.6" fill="#abffff"/><circle cx="1404" cy="2338.4" r="4.8" fill="#faffff"/>
<g fill="#000">
<rect x="242" y="1615" width="5" height="879"/>
<rect x="226" y="1615" width="1245" height="6"/>
<rect x="1466" y="1615" width="5" height="877"/>
<rect x="226" y="2489" width="1243" height="5"/>
<rect x="226" y="1760.67" width="18" height="6"/>
<rect x="226" y="1906.34" width="18" height="6"/>
<rect x="226" y="2052.01" width="18" height="6"/>
<rect x="226" y="2197.68" width="18" height="6"/>
<rect x="226" y="2343.35" width="18" height="6"/>
<rect x="235" y="1687.83" width="9" height="6"/>
<rect x="235" y="1833.50" width="9" height="6"/>
<rect x="235" y="1979.17" width="9" height="6"/>
<rect x="235" y="2124.84" width="9" height="6"/>
<rect x="235" y="2270.51" width="9" height="6"/>
<rect x="235" y="2416.18" width="9" height="6"/>
<rect x="269.60" y="2494" width="6" height="15"/>
<rect x="554.15" y="2494" width="6" height="15"/>
<rect x="838.70" y="2494" width="6" height="15"/>
<rect x="1123.25" y="2494" width="6" height="15"/>
<rect x="1407.80" y="2494" width="6" height="15"/>
<rect x="411.90" y="2494" width="6" height="6"/>
<rect x="696.45" y="2494" width="6" height="6"/>
<rect x="981.00" y="2494" width="6" height="6"/>
<rect x="1265.55" y="2494" width="6" height="6"/>
<rect x="1550.10" y="2494" width="6" height="6"/>
</g>
</svg></body></html>
